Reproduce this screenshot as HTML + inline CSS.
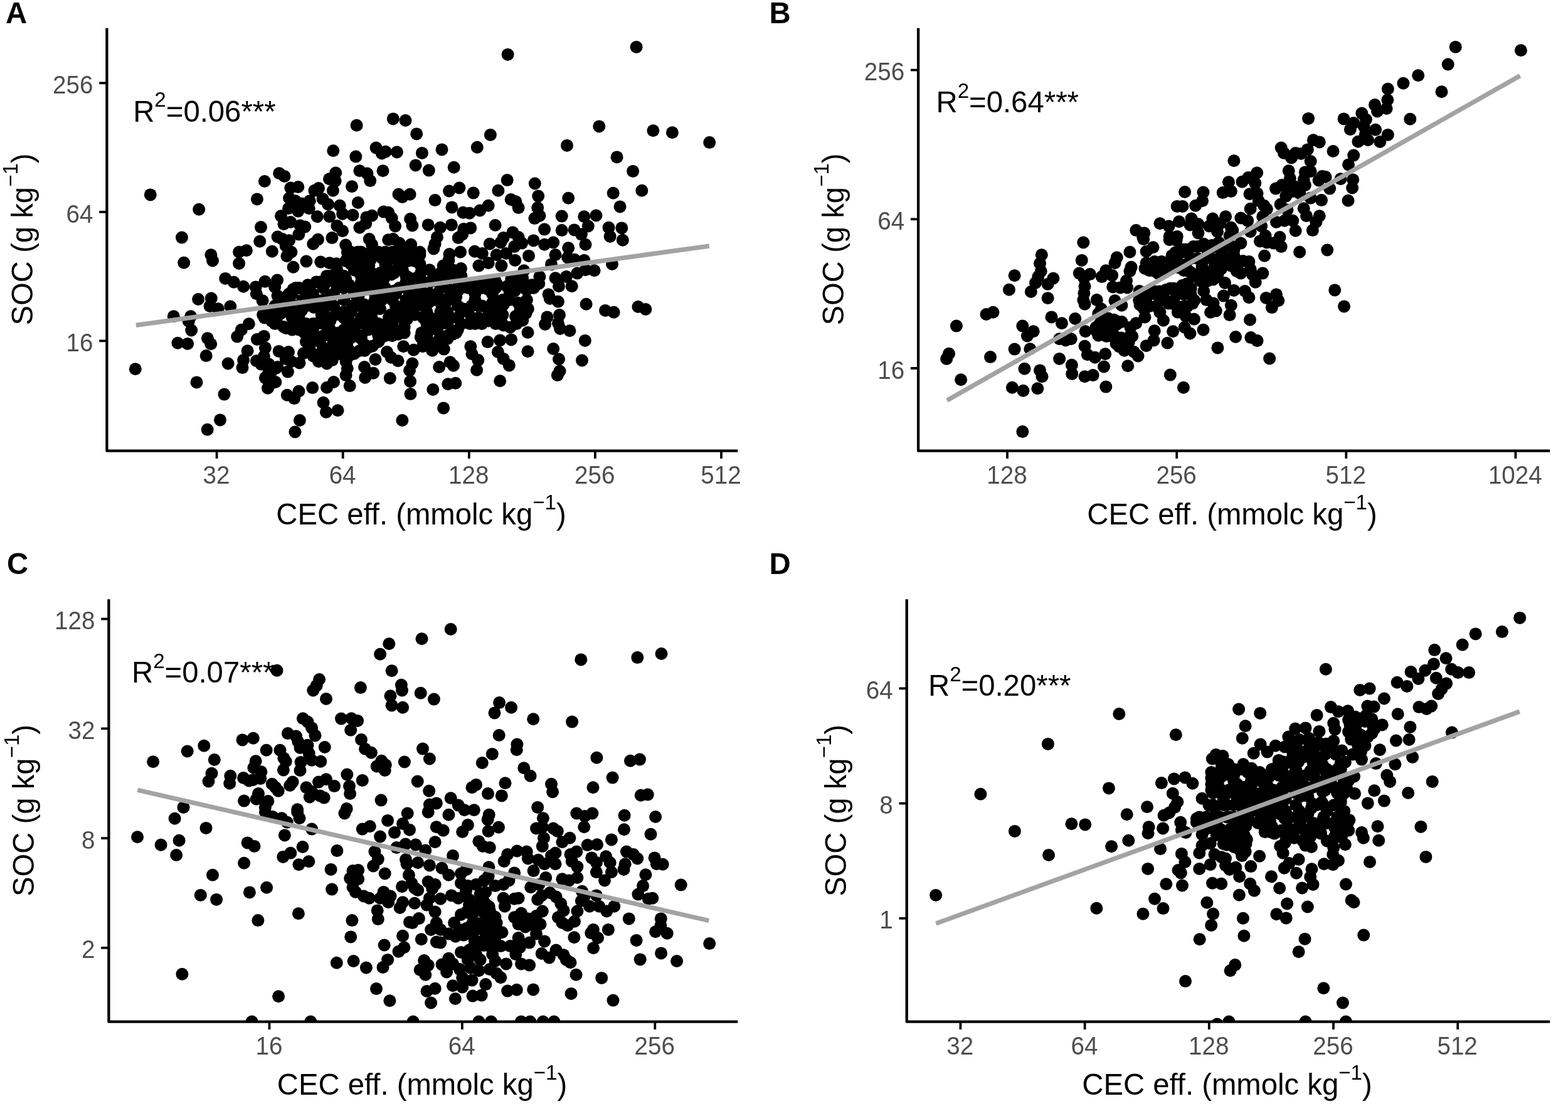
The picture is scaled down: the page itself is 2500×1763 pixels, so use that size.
<!DOCTYPE html>
<html lang="en">
<head>
<meta charset="utf-8">
<title>SOC vs CEC eff. scatter plots</title>
<style>
html,body{margin:0;padding:0;background:#fff;}
body{width:2500px;height:1763px;overflow:hidden;}
svg{display:block;font-family:"Liberation Sans", Arial, Helvetica, sans-serif;}
</style>
</head>
<body>
<svg width="2500" height="1763" viewBox="0 0 2500 1763">
<rect width="2500" height="1763" fill="#fff"/>
<g id="panel-A">
<clipPath id="clipA"><rect x="170.4" y="14.7" width="1045.8" height="704"/></clipPath>
<text transform="translate(212.2 193.8) scale(1 1.02)" font-size="47.3" fill="#000">R<tspan font-size="33.1" dy="-23">2</tspan><tspan dy="23">=0.06***</tspan></text>
<g class="pts" clip-path="url(#clipA)" fill="#000">
<circle cx="1014.6" cy="74.9" r="10"/><circle cx="809.6" cy="86.9" r="10"/><circle cx="626.8" cy="189.4" r="10"/><circle cx="646.5" cy="192" r="10"/><circle cx="568.6" cy="199.8" r="10"/><circle cx="955.3" cy="201.4" r="10"/>
<circle cx="1041.4" cy="208.3" r="10"/><circle cx="1071.9" cy="211.2" r="10"/><circle cx="664.2" cy="213.4" r="10"/><circle cx="781.9" cy="214.9" r="10"/><circle cx="1131.2" cy="227.1" r="10"/><circle cx="904" cy="231.9" r="10"/>
<circle cx="760.8" cy="234.7" r="10"/><circle cx="599.6" cy="235.6" r="10"/><circle cx="704.5" cy="238.4" r="10"/><circle cx="531.3" cy="240.2" r="10"/><circle cx="614.8" cy="241.7" r="10"/><circle cx="632.9" cy="242.4" r="10"/>
<circle cx="672.9" cy="243.9" r="10"/><circle cx="608.7" cy="244.5" r="10"/><circle cx="567.3" cy="249.6" r="10"/><circle cx="983.6" cy="250.4" r="10"/><circle cx="662.6" cy="263.5" r="10"/><circle cx="723.7" cy="266.8" r="10"/>
<circle cx="683.8" cy="271.6" r="10"/><circle cx="573.4" cy="272.2" r="10"/><circle cx="610.5" cy="272.2" r="10"/><circle cx="1009.1" cy="272.9" r="10"/><circle cx="535.2" cy="275.5" r="10"/><circle cx="445.2" cy="276.2" r="10"/>
<circle cx="585.4" cy="276.6" r="10"/><circle cx="453.5" cy="281" r="10"/><circle cx="525" cy="285.3" r="10"/><circle cx="808.7" cy="287.1" r="10"/><circle cx="590.2" cy="288.1" r="10"/><circle cx="534.6" cy="288.6" r="10"/>
<circle cx="421.9" cy="289" r="10"/><circle cx="852.8" cy="292.5" r="10"/><circle cx="561" cy="297.3" r="10"/><circle cx="475.3" cy="298" r="10"/><circle cx="463.3" cy="299.5" r="10"/><circle cx="732.4" cy="299.5" r="10"/>
<circle cx="508" cy="300.1" r="10"/><circle cx="501.4" cy="303.8" r="10"/><circle cx="530.9" cy="303.8" r="10"/><circle cx="794.4" cy="303.8" r="10"/><circle cx="1023.3" cy="303.8" r="10"/><circle cx="716.1" cy="304.5" r="10"/>
<circle cx="754.7" cy="307.6" r="10"/><circle cx="977.7" cy="307.8" r="10"/><circle cx="635.5" cy="309.7" r="10"/><circle cx="653.6" cy="309.7" r="10"/><circle cx="239.8" cy="310.4" r="10"/><circle cx="858.2" cy="312.6" r="10"/>
<circle cx="641.4" cy="314.1" r="10"/><circle cx="461.1" cy="315.8" r="10"/><circle cx="906.2" cy="315.8" r="10"/><circle cx="514.5" cy="316.9" r="10"/><circle cx="409.9" cy="317.4" r="10"/><circle cx="814.6" cy="318" r="10"/>
<circle cx="693.6" cy="319.1" r="10"/><circle cx="470.9" cy="320.2" r="10"/><circle cx="493.8" cy="320.2" r="10"/><circle cx="822.3" cy="321.3" r="10"/><circle cx="570.8" cy="323" r="10"/><circle cx="480.7" cy="324.6" r="10"/>
<circle cx="523.2" cy="325.7" r="10"/><circle cx="541.8" cy="327.8" r="10"/><circle cx="778.7" cy="327.8" r="10"/><circle cx="988.6" cy="329.4" r="10"/><circle cx="720.4" cy="330.4" r="10"/><circle cx="826.6" cy="331.1" r="10"/>
<circle cx="857.2" cy="331.1" r="10"/><circle cx="460" cy="332.2" r="10"/><circle cx="492.7" cy="332.2" r="10"/><circle cx="317.2" cy="333.7" r="10"/><circle cx="765.1" cy="335.5" r="10"/><circle cx="475.3" cy="336.6" r="10"/>
<circle cx="611.6" cy="337.6" r="10"/><circle cx="619.2" cy="338.7" r="10"/><circle cx="738.3" cy="338.7" r="10"/><circle cx="748.6" cy="339.8" r="10"/><circle cx="546.1" cy="340.9" r="10"/><circle cx="562.5" cy="342.7" r="10"/>
<circle cx="950.5" cy="343.5" r="10"/><circle cx="593" cy="343.8" r="10"/><circle cx="860.4" cy="343.8" r="10"/><circle cx="448" cy="344.2" r="10"/><circle cx="895.7" cy="344.6" r="10"/><circle cx="505.8" cy="345.3" r="10"/>
<circle cx="525.4" cy="345.3" r="10"/><circle cx="931.3" cy="345.3" r="10"/><circle cx="584.3" cy="346.4" r="10"/><circle cx="624.6" cy="347.5" r="10"/><circle cx="852.4" cy="348.1" r="10"/><circle cx="654.1" cy="349" r="10"/>
<circle cx="463.3" cy="354" r="10"/><circle cx="583.2" cy="356.2" r="10"/><circle cx="452.4" cy="357.3" r="10"/><circle cx="682.7" cy="358.4" r="10"/><circle cx="719.8" cy="358.4" r="10"/><circle cx="789.6" cy="359" r="10"/>
<circle cx="478.5" cy="359.5" r="10"/><circle cx="657.4" cy="359.5" r="10"/><circle cx="537.4" cy="359.9" r="10"/><circle cx="630.1" cy="360.5" r="10"/><circle cx="937.8" cy="360.5" r="10"/><circle cx="486.2" cy="361.6" r="10"/>
<circle cx="416" cy="362.1" r="10"/><circle cx="573.4" cy="362.7" r="10"/><circle cx="701.9" cy="362.7" r="10"/><circle cx="970.5" cy="362.7" r="10"/><circle cx="750.3" cy="363.4" r="10"/><circle cx="991.3" cy="363.4" r="10"/>
<circle cx="739.4" cy="364.9" r="10"/><circle cx="868.1" cy="365.6" r="10"/><circle cx="915.6" cy="366.4" r="10"/><circle cx="895.7" cy="367.1" r="10"/><circle cx="546.1" cy="368.2" r="10"/><circle cx="817.5" cy="370.4" r="10"/>
<circle cx="476.4" cy="373.6" r="10"/><circle cx="737.2" cy="373.6" r="10"/><circle cx="926.9" cy="373.6" r="10"/><circle cx="972.7" cy="376.9" r="10"/><circle cx="442.6" cy="377.5" r="10"/><circle cx="696.9" cy="378" r="10"/>
<circle cx="826.6" cy="378" r="10"/><circle cx="289.9" cy="378.6" r="10"/><circle cx="529.4" cy="379.1" r="10"/><circle cx="730.7" cy="379.1" r="10"/><circle cx="802.6" cy="379.1" r="10"/><circle cx="450.2" cy="381.1" r="10"/>
<circle cx="588.7" cy="381.1" r="10"/><circle cx="626.8" cy="381.1" r="10"/><circle cx="506.9" cy="381.7" r="10"/><circle cx="619.2" cy="382.2" r="10"/><circle cx="992.8" cy="382.8" r="10"/><circle cx="461.1" cy="383.3" r="10"/>
<circle cx="850.6" cy="383.4" r="10"/><circle cx="414.2" cy="384.8" r="10"/><circle cx="798.3" cy="386.5" r="10"/><circle cx="882.2" cy="386.5" r="10"/><circle cx="636.6" cy="387.6" r="10"/><circle cx="832.1" cy="387.6" r="10"/>
<circle cx="499.3" cy="388.7" r="10"/><circle cx="693.6" cy="388.7" r="10"/><circle cx="780.8" cy="388.7" r="10"/><circle cx="593" cy="389.8" r="10"/><circle cx="655.2" cy="389.8" r="10"/><circle cx="868.1" cy="389.8" r="10"/>
<circle cx="933.5" cy="389.8" r="10"/><circle cx="551.2" cy="390.5" r="10"/><circle cx="455.7" cy="392" r="10"/><circle cx="820.1" cy="393.1" r="10"/><circle cx="906.2" cy="395.3" r="10"/><circle cx="691.4" cy="396.4" r="10"/>
<circle cx="392.9" cy="399.2" r="10"/><circle cx="433.8" cy="400.7" r="10"/><circle cx="756.8" cy="400.7" r="10"/><circle cx="381.1" cy="401.8" r="10"/><circle cx="464.4" cy="401.8" r="10"/><circle cx="553.9" cy="401.8" r="10"/>
<circle cx="559.4" cy="401.8" r="10"/><circle cx="570.4" cy="401.8" r="10"/><circle cx="575.9" cy="401.8" r="10"/><circle cx="597.9" cy="401.8" r="10"/><circle cx="603.4" cy="401.8" r="10"/><circle cx="614.4" cy="401.8" r="10"/>
<circle cx="625.4" cy="401.8" r="10"/><circle cx="636.4" cy="401.8" r="10"/><circle cx="641.9" cy="401.8" r="10"/><circle cx="647.4" cy="401.8" r="10"/><circle cx="658.4" cy="401.8" r="10"/><circle cx="669.4" cy="401.8" r="10"/>
<circle cx="734" cy="401.8" r="10"/><circle cx="768.8" cy="404" r="10"/><circle cx="807" cy="404" r="10"/><circle cx="588.3" cy="404.2" r="10"/><circle cx="716.5" cy="405.1" r="10"/><circle cx="336.4" cy="406.2" r="10"/>
<circle cx="791.7" cy="406.2" r="10"/><circle cx="885.5" cy="406.2" r="10"/><circle cx="595.2" cy="406.6" r="10"/><circle cx="669.4" cy="406.6" r="10"/><circle cx="843" cy="407.9" r="10"/><circle cx="457.4" cy="408.3" r="10"/>
<circle cx="905.1" cy="410.5" r="10"/><circle cx="553.9" cy="411.3" r="10"/><circle cx="575.9" cy="411.3" r="10"/><circle cx="586.9" cy="411.3" r="10"/><circle cx="608.9" cy="411.3" r="10"/><circle cx="630.9" cy="411.3" r="10"/>
<circle cx="652.9" cy="411.3" r="10"/><circle cx="663.9" cy="411.3" r="10"/><circle cx="591" cy="413.7" r="10"/><circle cx="621.3" cy="413.7" r="10"/><circle cx="916" cy="413.8" r="10"/><circle cx="715.4" cy="414.9" r="10"/>
<circle cx="821.2" cy="414.9" r="10"/><circle cx="931.3" cy="414.9" r="10"/><circle cx="339" cy="415.5" r="10"/><circle cx="551.2" cy="416.1" r="10"/><circle cx="567.7" cy="416.1" r="10"/><circle cx="650.2" cy="416.1" r="10"/>
<circle cx="661.2" cy="416.1" r="10"/><circle cx="488.4" cy="416.6" r="10"/><circle cx="511.3" cy="417.5" r="10"/><circle cx="293.2" cy="418.8" r="10"/><circle cx="525.4" cy="419.2" r="10"/><circle cx="778.7" cy="419.2" r="10"/>
<circle cx="381.1" cy="419.9" r="10"/><circle cx="536.3" cy="420.3" r="10"/><circle cx="559.4" cy="420.9" r="10"/><circle cx="581.4" cy="420.9" r="10"/><circle cx="614.4" cy="420.9" r="10"/><circle cx="636.4" cy="420.9" r="10"/>
<circle cx="669.4" cy="420.9" r="10"/><circle cx="976" cy="421" r="10"/><circle cx="879" cy="421.4" r="10"/><circle cx="588.3" cy="423.2" r="10"/><circle cx="706.7" cy="423.6" r="10"/><circle cx="763.4" cy="423.6" r="10"/>
<circle cx="799.4" cy="423.6" r="10"/><circle cx="467.6" cy="425.8" r="10"/><circle cx="735" cy="428" r="10"/><circle cx="684.9" cy="430.2" r="10"/><circle cx="722" cy="430.2" r="10"/><circle cx="933.5" cy="430.2" r="10"/>
<circle cx="537.4" cy="430.4" r="10"/><circle cx="564.9" cy="430.4" r="10"/><circle cx="586.9" cy="430.4" r="10"/><circle cx="619.9" cy="430.4" r="10"/><circle cx="641.9" cy="430.4" r="10"/><circle cx="835.3" cy="431.2" r="10"/>
<circle cx="947.6" cy="431.2" r="10"/><circle cx="671.8" cy="432.3" r="10"/><circle cx="592.4" cy="435.1" r="10"/><circle cx="606.2" cy="435.1" r="10"/><circle cx="628.2" cy="435.1" r="10"/><circle cx="702.4" cy="435.1" r="10"/>
<circle cx="920.4" cy="435.6" r="10"/><circle cx="574.5" cy="437.5" r="10"/><circle cx="624" cy="437.5" r="10"/><circle cx="520.9" cy="439.9" r="10"/><circle cx="526.4" cy="439.9" r="10"/><circle cx="537.4" cy="439.9" r="10"/>
<circle cx="548.4" cy="439.9" r="10"/><circle cx="581.4" cy="439.9" r="10"/><circle cx="603.4" cy="439.9" r="10"/><circle cx="647.4" cy="439.9" r="10"/><circle cx="669.4" cy="439.9" r="10"/><circle cx="691.4" cy="439.9" r="10"/>
<circle cx="702.4" cy="439.9" r="10"/><circle cx="713.4" cy="439.9" r="10"/><circle cx="735.4" cy="439.9" r="10"/><circle cx="860.4" cy="441.1" r="10"/><circle cx="902.9" cy="441.1" r="10"/><circle cx="651.5" cy="442.3" r="10"/>
<circle cx="665.3" cy="442.3" r="10"/><circle cx="833" cy="442.3" r="10"/><circle cx="885.5" cy="443.2" r="10"/><circle cx="359.3" cy="443.9" r="10"/><circle cx="551.2" cy="444.7" r="10"/><circle cx="611.7" cy="444.7" r="10"/>
<circle cx="727.2" cy="444.7" r="10"/><circle cx="815.2" cy="444.7" r="10"/><circle cx="442.1" cy="446.5" r="10"/><circle cx="536" cy="447.1" r="10"/><circle cx="824.8" cy="447.1" r="10"/><circle cx="422.5" cy="448.7" r="10"/>
<circle cx="504.4" cy="449.4" r="10"/><circle cx="509.9" cy="449.4" r="10"/><circle cx="520.9" cy="449.4" r="10"/><circle cx="575.9" cy="449.4" r="10"/><circle cx="586.9" cy="449.4" r="10"/><circle cx="608.9" cy="449.4" r="10"/>
<circle cx="647.4" cy="449.4" r="10"/><circle cx="652.9" cy="449.4" r="10"/><circle cx="674.9" cy="449.4" r="10"/><circle cx="685.9" cy="449.4" r="10"/><circle cx="699.7" cy="449.4" r="10"/><circle cx="773.9" cy="449.4" r="10"/>
<circle cx="784.9" cy="449.4" r="10"/><circle cx="790.4" cy="449.4" r="10"/><circle cx="817.9" cy="449.4" r="10"/><circle cx="828.9" cy="449.4" r="10"/><circle cx="834.4" cy="449.4" r="10"/><circle cx="372.8" cy="449.8" r="10"/>
<circle cx="756" cy="451.8" r="10"/><circle cx="769.8" cy="451.8" r="10"/><circle cx="859.3" cy="452" r="10"/><circle cx="490.7" cy="454.2" r="10"/><circle cx="556.7" cy="454.2" r="10"/><circle cx="597.9" cy="454.2" r="10"/>
<circle cx="749.2" cy="454.2" r="10"/><circle cx="793.2" cy="454.2" r="10"/><circle cx="812.4" cy="454.2" r="10"/><circle cx="848.2" cy="454.2" r="10"/><circle cx="891" cy="456.3" r="10"/><circle cx="911.7" cy="456.3" r="10"/>
<circle cx="808.3" cy="456.6" r="10"/><circle cx="388.1" cy="456.8" r="10"/><circle cx="407.7" cy="457.4" r="10"/><circle cx="438.2" cy="457.4" r="10"/><circle cx="471.4" cy="459" r="10"/><circle cx="476.9" cy="459" r="10"/>
<circle cx="493.4" cy="459" r="10"/><circle cx="515.4" cy="459" r="10"/><circle cx="537.4" cy="459" r="10"/><circle cx="548.4" cy="459" r="10"/><circle cx="570.4" cy="459" r="10"/><circle cx="575.9" cy="459" r="10"/>
<circle cx="581.4" cy="459" r="10"/><circle cx="592.4" cy="459" r="10"/><circle cx="614.4" cy="459" r="10"/><circle cx="636.4" cy="459" r="10"/><circle cx="647.4" cy="459" r="10"/><circle cx="669.4" cy="459" r="10"/>
<circle cx="702.4" cy="459" r="10"/><circle cx="713.4" cy="459" r="10"/><circle cx="729.9" cy="459" r="10"/><circle cx="735.4" cy="459" r="10"/><circle cx="746.4" cy="459" r="10"/><circle cx="757.4" cy="459" r="10"/>
<circle cx="768.4" cy="459" r="10"/><circle cx="790.4" cy="459" r="10"/><circle cx="812.4" cy="459" r="10"/><circle cx="823.4" cy="459" r="10"/><circle cx="850.9" cy="459" r="10"/><circle cx="841.9" cy="460.7" r="10"/>
<circle cx="467.3" cy="461.3" r="10"/><circle cx="585.5" cy="461.3" r="10"/><circle cx="778" cy="461.3" r="10"/><circle cx="838.5" cy="461.3" r="10"/><circle cx="628.2" cy="463.7" r="10"/><circle cx="729.9" cy="463.7" r="10"/>
<circle cx="812.4" cy="463.7" r="10"/><circle cx="820.7" cy="463.7" r="10"/><circle cx="662.5" cy="466.1" r="10"/><circle cx="408.8" cy="468.3" r="10"/><circle cx="460.4" cy="468.5" r="10"/><circle cx="465.9" cy="468.5" r="10"/>
<circle cx="487.9" cy="468.5" r="10"/><circle cx="498.9" cy="468.5" r="10"/><circle cx="531.9" cy="468.5" r="10"/><circle cx="564.9" cy="468.5" r="10"/><circle cx="597.9" cy="468.5" r="10"/><circle cx="619.9" cy="468.5" r="10"/>
<circle cx="630.9" cy="468.5" r="10"/><circle cx="652.9" cy="468.5" r="10"/><circle cx="680.4" cy="468.5" r="10"/><circle cx="685.9" cy="468.5" r="10"/><circle cx="696.9" cy="468.5" r="10"/><circle cx="718.9" cy="468.5" r="10"/>
<circle cx="757.4" cy="468.5" r="10"/><circle cx="784.9" cy="468.5" r="10"/><circle cx="874.6" cy="469.4" r="10"/><circle cx="527.8" cy="470.9" r="10"/><circle cx="571.8" cy="470.9" r="10"/><circle cx="442.6" cy="471.6" r="10"/>
<circle cx="727.2" cy="473.3" r="10"/><circle cx="336.8" cy="475.5" r="10"/><circle cx="876.8" cy="475.9" r="10"/><circle cx="316.1" cy="477" r="10"/><circle cx="449.4" cy="478" r="10"/><circle cx="460.4" cy="478" r="10"/>
<circle cx="482.4" cy="478" r="10"/><circle cx="493.4" cy="478" r="10"/><circle cx="504.4" cy="478" r="10"/><circle cx="515.4" cy="478" r="10"/><circle cx="548.4" cy="478" r="10"/><circle cx="570.4" cy="478" r="10"/>
<circle cx="597.9" cy="478" r="10"/><circle cx="603.4" cy="478" r="10"/><circle cx="608.9" cy="478" r="10"/><circle cx="625.4" cy="478" r="10"/><circle cx="647.4" cy="478" r="10"/><circle cx="669.4" cy="478" r="10"/>
<circle cx="680.4" cy="478" r="10"/><circle cx="691.4" cy="478" r="10"/><circle cx="707.9" cy="478" r="10"/><circle cx="713.4" cy="478" r="10"/><circle cx="724.4" cy="478" r="10"/><circle cx="757.4" cy="478" r="10"/>
<circle cx="801.4" cy="478" r="10"/><circle cx="812.4" cy="478" r="10"/><circle cx="839.9" cy="478" r="10"/><circle cx="418.6" cy="479.2" r="10"/><circle cx="889.9" cy="480.7" r="10"/><circle cx="463.2" cy="482.8" r="10"/>
<circle cx="661.2" cy="482.8" r="10"/><circle cx="683.2" cy="482.8" r="10"/><circle cx="784.9" cy="482.8" r="10"/><circle cx="826.2" cy="482.8" r="10"/><circle cx="934.6" cy="484.7" r="10"/><circle cx="580" cy="485.2" r="10"/>
<circle cx="703.8" cy="485.2" r="10"/><circle cx="709.3" cy="485.2" r="10"/><circle cx="802.8" cy="485.2" r="10"/><circle cx="438.4" cy="487.5" r="10"/><circle cx="443.9" cy="487.5" r="10"/><circle cx="468.7" cy="487.5" r="10"/>
<circle cx="487.9" cy="487.5" r="10"/><circle cx="504.4" cy="487.5" r="10"/><circle cx="509.9" cy="487.5" r="10"/><circle cx="520.9" cy="487.5" r="10"/><circle cx="531.9" cy="487.5" r="10"/><circle cx="562.2" cy="487.5" r="10"/>
<circle cx="575.9" cy="487.5" r="10"/><circle cx="586.9" cy="487.5" r="10"/><circle cx="630.9" cy="487.5" r="10"/><circle cx="647.4" cy="487.5" r="10"/><circle cx="652.9" cy="487.5" r="10"/><circle cx="674.9" cy="487.5" r="10"/>
<circle cx="729.9" cy="487.5" r="10"/><circle cx="751.9" cy="487.5" r="10"/><circle cx="762.9" cy="487.5" r="10"/><circle cx="768.4" cy="487.5" r="10"/><circle cx="784.9" cy="487.5" r="10"/><circle cx="795.9" cy="487.5" r="10"/>
<circle cx="828.9" cy="487.5" r="10"/><circle cx="334.6" cy="487.9" r="10"/><circle cx="367.3" cy="488.6" r="10"/><circle cx="1017.4" cy="489" r="10"/><circle cx="500.3" cy="489.9" r="10"/><circle cx="347.7" cy="492.3" r="10"/>
<circle cx="562.2" cy="492.3" r="10"/><circle cx="595.2" cy="492.3" r="10"/><circle cx="600.7" cy="492.3" r="10"/><circle cx="606.2" cy="492.3" r="10"/><circle cx="738.2" cy="492.3" r="10"/><circle cx="798.7" cy="492.3" r="10"/>
<circle cx="841.9" cy="492.3" r="10"/><circle cx="1029.4" cy="493" r="10"/><circle cx="453.5" cy="494.7" r="10"/><circle cx="481" cy="494.7" r="10"/><circle cx="965.1" cy="494.9" r="10"/><circle cx="427.4" cy="497.1" r="10"/>
<circle cx="438.4" cy="497.1" r="10"/><circle cx="460.4" cy="497.1" r="10"/><circle cx="471.4" cy="497.1" r="10"/><circle cx="476.9" cy="497.1" r="10"/><circle cx="515.4" cy="497.1" r="10"/><circle cx="537.4" cy="497.1" r="10"/>
<circle cx="548.4" cy="497.1" r="10"/><circle cx="559.4" cy="497.1" r="10"/><circle cx="581.4" cy="497.1" r="10"/><circle cx="592.4" cy="497.1" r="10"/><circle cx="658.4" cy="497.1" r="10"/><circle cx="680.4" cy="497.1" r="10"/>
<circle cx="702.4" cy="497.1" r="10"/><circle cx="713.4" cy="497.1" r="10"/><circle cx="735.4" cy="497.1" r="10"/><circle cx="746.4" cy="497.1" r="10"/><circle cx="779.4" cy="497.1" r="10"/><circle cx="790.4" cy="497.1" r="10"/>
<circle cx="828.9" cy="497.1" r="10"/><circle cx="834.4" cy="497.1" r="10"/><circle cx="978.6" cy="497.7" r="10"/><circle cx="448" cy="499.4" r="10"/><circle cx="643.3" cy="499.4" r="10"/><circle cx="838.5" cy="499.4" r="10"/>
<circle cx="419.2" cy="501.8" r="10"/><circle cx="441.2" cy="501.8" r="10"/><circle cx="476.9" cy="501.8" r="10"/><circle cx="512.7" cy="501.8" r="10"/><circle cx="534.7" cy="501.8" r="10"/><circle cx="622.7" cy="501.8" r="10"/>
<circle cx="661.2" cy="501.8" r="10"/><circle cx="782.2" cy="501.8" r="10"/><circle cx="801.4" cy="501.8" r="10"/><circle cx="826.2" cy="501.8" r="10"/><circle cx="892" cy="502.1" r="10"/><circle cx="822" cy="504.2" r="10"/>
<circle cx="276.8" cy="504.3" r="10"/><circle cx="304.1" cy="504.3" r="10"/><circle cx="872.4" cy="505.4" r="10"/><circle cx="421.9" cy="506.6" r="10"/><circle cx="432.9" cy="506.6" r="10"/><circle cx="441.2" cy="506.6" r="10"/>
<circle cx="465.9" cy="506.6" r="10"/><circle cx="520.9" cy="506.6" r="10"/><circle cx="548.4" cy="506.6" r="10"/><circle cx="575.9" cy="506.6" r="10"/><circle cx="592.4" cy="506.6" r="10"/><circle cx="619.9" cy="506.6" r="10"/>
<circle cx="630.9" cy="506.6" r="10"/><circle cx="641.9" cy="506.6" r="10"/><circle cx="674.9" cy="506.6" r="10"/><circle cx="685.9" cy="506.6" r="10"/><circle cx="707.9" cy="506.6" r="10"/><circle cx="718.9" cy="506.6" r="10"/>
<circle cx="729.9" cy="506.6" r="10"/><circle cx="751.9" cy="506.6" r="10"/><circle cx="762.9" cy="506.6" r="10"/><circle cx="795.9" cy="506.6" r="10"/><circle cx="648.8" cy="509" r="10"/><circle cx="772.5" cy="509" r="10"/>
<circle cx="833.2" cy="510.8" r="10"/><circle cx="432.9" cy="511.4" r="10"/><circle cx="512.7" cy="511.4" r="10"/><circle cx="526.4" cy="511.4" r="10"/><circle cx="556.7" cy="511.4" r="10"/><circle cx="779.4" cy="511.4" r="10"/>
<circle cx="798.7" cy="511.4" r="10"/><circle cx="300.8" cy="511.9" r="10"/><circle cx="698.3" cy="513.7" r="10"/><circle cx="889.9" cy="515.2" r="10"/><circle cx="438.4" cy="516.1" r="10"/><circle cx="471.4" cy="516.1" r="10"/>
<circle cx="482.4" cy="516.1" r="10"/><circle cx="487.9" cy="516.1" r="10"/><circle cx="498.9" cy="516.1" r="10"/><circle cx="504.4" cy="516.1" r="10"/><circle cx="515.4" cy="516.1" r="10"/><circle cx="559.4" cy="516.1" r="10"/>
<circle cx="570.4" cy="516.1" r="10"/><circle cx="581.4" cy="516.1" r="10"/><circle cx="592.4" cy="516.1" r="10"/><circle cx="603.4" cy="516.1" r="10"/><circle cx="625.4" cy="516.1" r="10"/><circle cx="680.4" cy="516.1" r="10"/>
<circle cx="702.4" cy="516.1" r="10"/><circle cx="713.4" cy="516.1" r="10"/><circle cx="735.4" cy="516.1" r="10"/><circle cx="749.2" cy="516.1" r="10"/><circle cx="757.4" cy="516.1" r="10"/><circle cx="768.4" cy="516.1" r="10"/>
<circle cx="790.4" cy="516.1" r="10"/><circle cx="798.7" cy="516.1" r="10"/><circle cx="823.4" cy="516.1" r="10"/><circle cx="396.8" cy="516.3" r="10"/><circle cx="869.1" cy="516.9" r="10"/><circle cx="607.5" cy="518.5" r="10"/>
<circle cx="802.8" cy="518.5" r="10"/><circle cx="452.2" cy="520.9" r="10"/><circle cx="644.7" cy="520.9" r="10"/><circle cx="813.5" cy="521.7" r="10"/><circle cx="456.3" cy="523.3" r="10"/><circle cx="893.1" cy="523.9" r="10"/>
<circle cx="465.9" cy="525.6" r="10"/><circle cx="476.9" cy="525.6" r="10"/><circle cx="487.9" cy="525.6" r="10"/><circle cx="498.9" cy="525.6" r="10"/><circle cx="526.4" cy="525.6" r="10"/><circle cx="548.4" cy="525.6" r="10"/>
<circle cx="553.9" cy="525.6" r="10"/><circle cx="564.9" cy="525.6" r="10"/><circle cx="586.9" cy="525.6" r="10"/><circle cx="597.9" cy="525.6" r="10"/><circle cx="619.9" cy="525.6" r="10"/><circle cx="641.9" cy="525.6" r="10"/>
<circle cx="685.9" cy="525.6" r="10"/><circle cx="696.9" cy="525.6" r="10"/><circle cx="729.9" cy="525.6" r="10"/><circle cx="384.8" cy="525.7" r="10"/><circle cx="305.2" cy="526.5" r="10"/><circle cx="908.4" cy="527.2" r="10"/>
<circle cx="841.5" cy="530" r="10"/><circle cx="485.2" cy="530.4" r="10"/><circle cx="540.2" cy="530.4" r="10"/><circle cx="639.2" cy="530.4" r="10"/><circle cx="644.7" cy="530.4" r="10"/><circle cx="672.2" cy="530.4" r="10"/>
<circle cx="727.2" cy="530.4" r="10"/><circle cx="722" cy="532.6" r="10"/><circle cx="635" cy="532.8" r="10"/><circle cx="493.4" cy="535.2" r="10"/><circle cx="515.4" cy="535.2" r="10"/><circle cx="526.4" cy="535.2" r="10"/>
<circle cx="548.4" cy="535.2" r="10"/><circle cx="570.4" cy="535.2" r="10"/><circle cx="575.9" cy="535.2" r="10"/><circle cx="603.4" cy="535.2" r="10"/><circle cx="614.4" cy="535.2" r="10"/><circle cx="625.4" cy="535.2" r="10"/>
<circle cx="674.9" cy="535.2" r="10"/><circle cx="680.4" cy="535.2" r="10"/><circle cx="702.4" cy="535.2" r="10"/><circle cx="713.4" cy="535.2" r="10"/><circle cx="420.8" cy="535.9" r="10"/><circle cx="378.2" cy="536.6" r="10"/>
<circle cx="560.8" cy="537.6" r="10"/><circle cx="670.8" cy="537.6" r="10"/><circle cx="330.9" cy="539.2" r="10"/><circle cx="575.9" cy="539.9" r="10"/><circle cx="606.2" cy="539.9" r="10"/><circle cx="707.9" cy="539.9" r="10"/>
<circle cx="713.4" cy="539.9" r="10"/><circle cx="409.9" cy="540.9" r="10"/><circle cx="815.1" cy="541.4" r="10"/><circle cx="503" cy="542.3" r="10"/><circle cx="797.2" cy="542.5" r="10"/><circle cx="932.8" cy="542.9" r="10"/>
<circle cx="487.9" cy="544.7" r="10"/><circle cx="509.9" cy="544.7" r="10"/><circle cx="531.9" cy="544.7" r="10"/><circle cx="553.9" cy="544.7" r="10"/><circle cx="603.4" cy="544.7" r="10"/><circle cx="674.9" cy="544.7" r="10"/>
<circle cx="680.4" cy="544.7" r="10"/><circle cx="696.9" cy="544.7" r="10"/><circle cx="777.6" cy="545.1" r="10"/><circle cx="283.4" cy="546.8" r="10"/><circle cx="538.8" cy="547.1" r="10"/><circle cx="299.1" cy="547.9" r="10"/>
<circle cx="336.2" cy="548.3" r="10"/><circle cx="581.4" cy="549.5" r="10"/><circle cx="593.8" cy="551.8" r="10"/><circle cx="643.2" cy="552.3" r="10"/><circle cx="674" cy="552.3" r="10"/><circle cx="750.3" cy="552.3" r="10"/>
<circle cx="493.4" cy="554.2" r="10"/><circle cx="515.4" cy="554.2" r="10"/><circle cx="526.4" cy="554.2" r="10"/><circle cx="548.4" cy="554.2" r="10"/><circle cx="581.4" cy="554.2" r="10"/><circle cx="586.9" cy="554.2" r="10"/>
<circle cx="422.9" cy="554.4" r="10"/><circle cx="882.2" cy="556" r="10"/><circle cx="555.3" cy="556.6" r="10"/><circle cx="707.8" cy="556.6" r="10"/><circle cx="659.5" cy="557.7" r="10"/><circle cx="689.2" cy="558.8" r="10"/>
<circle cx="573.2" cy="559" r="10"/><circle cx="581.4" cy="559" r="10"/><circle cx="394.6" cy="559.2" r="10"/><circle cx="444.7" cy="559.9" r="10"/><circle cx="841.5" cy="560.3" r="10"/><circle cx="460" cy="561" r="10"/>
<circle cx="617" cy="561" r="10"/><circle cx="793.9" cy="561" r="10"/><circle cx="484" cy="563.2" r="10"/><circle cx="509.9" cy="563.7" r="10"/><circle cx="520.9" cy="563.7" r="10"/><circle cx="531.9" cy="563.7" r="10"/>
<circle cx="542.9" cy="563.7" r="10"/><circle cx="553.9" cy="563.7" r="10"/><circle cx="564.9" cy="563.7" r="10"/><circle cx="752.5" cy="564.3" r="10"/><circle cx="547" cy="566.1" r="10"/><circle cx="558" cy="566.1" r="10"/>
<circle cx="328.7" cy="567.1" r="10"/><circle cx="499.3" cy="567.5" r="10"/><circle cx="420.8" cy="568" r="10"/><circle cx="512.7" cy="568.5" r="10"/><circle cx="523.7" cy="568.5" r="10"/><circle cx="623.6" cy="569.7" r="10"/>
<circle cx="516.8" cy="570.9" r="10"/><circle cx="455.7" cy="571.9" r="10"/><circle cx="802.6" cy="571.9" r="10"/><circle cx="891" cy="572.5" r="10"/><circle cx="598.5" cy="573" r="10"/><circle cx="388.1" cy="574.1" r="10"/>
<circle cx="529.8" cy="574.1" r="10"/><circle cx="762.3" cy="574.1" r="10"/><circle cx="928" cy="574.5" r="10"/><circle cx="408.8" cy="575.2" r="10"/><circle cx="634.5" cy="575.2" r="10"/><circle cx="464.4" cy="576.2" r="10"/>
<circle cx="508" cy="576.2" r="10"/><circle cx="551.6" cy="576.2" r="10"/><circle cx="717.6" cy="577.3" r="10"/><circle cx="477.5" cy="578.4" r="10"/><circle cx="363.6" cy="579.5" r="10"/><circle cx="521.1" cy="579.5" r="10"/>
<circle cx="657.4" cy="579.5" r="10"/><circle cx="416.4" cy="580.6" r="10"/><circle cx="428.7" cy="580.6" r="10"/><circle cx="811.8" cy="582.4" r="10"/><circle cx="723" cy="582.8" r="10"/><circle cx="427.3" cy="585" r="10"/>
<circle cx="442.6" cy="585" r="10"/><circle cx="581" cy="585" r="10"/><circle cx="700.2" cy="585" r="10"/><circle cx="386.5" cy="586.1" r="10"/><circle cx="439.6" cy="587.2" r="10"/><circle cx="553.8" cy="587.2" r="10"/>
<circle cx="215.8" cy="588.2" r="10"/><circle cx="760.1" cy="589.8" r="10"/><circle cx="653" cy="590.4" r="10"/><circle cx="892.5" cy="591.5" r="10"/><circle cx="458.9" cy="592.6" r="10"/><circle cx="431.7" cy="593.7" r="10"/>
<circle cx="595.2" cy="594.8" r="10"/><circle cx="426.5" cy="598.1" r="10"/><circle cx="551.6" cy="598.1" r="10"/><circle cx="888.8" cy="598.1" r="10"/><circle cx="582.1" cy="602" r="10"/><circle cx="422.9" cy="602.4" r="10"/>
<circle cx="621.8" cy="602.9" r="10"/><circle cx="797.2" cy="607.2" r="10"/><circle cx="654.1" cy="607.9" r="10"/><circle cx="439.3" cy="609" r="10"/><circle cx="532" cy="609" r="10"/><circle cx="313.5" cy="609.4" r="10"/>
<circle cx="726.3" cy="610.7" r="10"/><circle cx="714.3" cy="612.2" r="10"/><circle cx="557.7" cy="615.1" r="10"/><circle cx="428.7" cy="615.5" r="10"/><circle cx="521.1" cy="617.7" r="10"/><circle cx="498.2" cy="618.1" r="10"/>
<circle cx="426.9" cy="618.8" r="10"/><circle cx="690.3" cy="621" r="10"/><circle cx="476.4" cy="623.8" r="10"/><circle cx="654.5" cy="628.1" r="10"/><circle cx="357.5" cy="628.6" r="10"/><circle cx="457.8" cy="629.7" r="10"/>
<circle cx="469.2" cy="635.1" r="10"/><circle cx="515.6" cy="641.7" r="10"/><circle cx="707.1" cy="650.4" r="10"/><circle cx="538.5" cy="654.3" r="10"/><circle cx="520" cy="656.9" r="10"/><circle cx="351" cy="669.4" r="10"/>
<circle cx="477.9" cy="670" r="10"/><circle cx="641.4" cy="670" r="10"/><circle cx="330.7" cy="684.8" r="10"/><circle cx="470.5" cy="688.5" r="10"/>
</g>
<line x1="216.8" y1="518.4" x2="1130.8" y2="392.2" stroke="#a3a3a3" stroke-width="7.3"/>
<path d="M170.4 44.7V718.7H1176.2" fill="none" stroke="#000" stroke-width="4.3" stroke-linejoin="round"/>
<path d="M345.6 718.7v12.2M546.7 718.7v12.2M747.8 718.7v12.2M948.9 718.7v12.2M1150 718.7v12.2M170.4 132.4h-12.2M170.4 337.9h-12.2M170.4 543.4h-12.2" fill="none" stroke="#000" stroke-width="3.8"/>
<g font-size="38.6" fill="#4d4d4d">
<text transform="translate(345 770.7) scale(1 1.04)" text-anchor="middle">32</text>
<text transform="translate(546.1 770.7) scale(1 1.04)" text-anchor="middle">64</text>
<text transform="translate(747.2 770.7) scale(1 1.04)" text-anchor="middle">128</text>
<text transform="translate(948.3 770.7) scale(1 1.04)" text-anchor="middle">256</text>
<text transform="translate(1149.4 770.7) scale(1 1.04)" text-anchor="middle">512</text>
<text transform="translate(148.4 149) scale(1 1.04)" text-anchor="end">256</text>
<text transform="translate(148.4 354.5) scale(1 1.04)" text-anchor="end">64</text>
<text transform="translate(148.4 560) scale(1 1.04)" text-anchor="end">16</text>
</g>
<text transform="translate(671.5 836.4) scale(1 1.02)" font-size="47.3" text-anchor="middle" fill="#000">CEC eff. (mmolc kg<tspan font-size="33.1" dy="-23.5">−1</tspan><tspan dy="23.5">)</tspan></text>
<text transform="translate(52 381.5) rotate(-90) scale(1 1.02)" font-size="47.3" text-anchor="middle" fill="#000">SOC (g kg<tspan font-size="33.1" dy="-23.5">−1</tspan><tspan dy="23.5">)</tspan></text>
<text x="9" y="37" font-size="47.3" font-weight="bold" fill="#000">A</text>
</g>
<g id="panel-B">
<clipPath id="clipB"><rect x="1464.1" y="14.7" width="1047.1" height="704"/></clipPath>
<text transform="translate(1492.5 179) scale(1 1.02)" font-size="47.3" fill="#000">R<tspan font-size="33.1" dy="-23">2</tspan><tspan dy="23">=0.64***</tspan></text>
<g class="pts" clip-path="url(#clipB)" fill="#000">
<circle cx="2320.7" cy="74.9" r="10"/><circle cx="2424.9" cy="80.3" r="10"/><circle cx="2308.7" cy="102.6" r="10"/><circle cx="2261.2" cy="120.2" r="10"/><circle cx="2237.4" cy="132.7" r="10"/><circle cx="2212.8" cy="141.8" r="10"/>
<circle cx="2298.5" cy="146.2" r="10"/><circle cx="2212.3" cy="159.3" r="10"/><circle cx="2192" cy="167.1" r="10"/><circle cx="2210.6" cy="173" r="10"/><circle cx="2196" cy="177.4" r="10"/><circle cx="2171.3" cy="180.6" r="10"/>
<circle cx="2086.1" cy="188.9" r="10"/><circle cx="2142.5" cy="189.4" r="10"/><circle cx="2248.3" cy="189.8" r="10"/><circle cx="2177.9" cy="190.5" r="10"/><circle cx="2158.2" cy="195.9" r="10"/><circle cx="2174.6" cy="201.4" r="10"/>
<circle cx="2152.8" cy="206.2" r="10"/><circle cx="2193.1" cy="206.8" r="10"/><circle cx="2176.8" cy="214.4" r="10"/><circle cx="2212.8" cy="214.9" r="10"/><circle cx="2093.9" cy="223.2" r="10"/><circle cx="2181.1" cy="223.2" r="10"/>
<circle cx="2165.4" cy="225.8" r="10"/><circle cx="2200.3" cy="226" r="10"/><circle cx="2103.7" cy="226.4" r="10"/><circle cx="2042.7" cy="235.6" r="10"/><circle cx="2084.8" cy="238.4" r="10"/><circle cx="2125.5" cy="241" r="10"/>
<circle cx="2047" cy="243.9" r="10"/><circle cx="2065.6" cy="243.9" r="10"/><circle cx="2074.3" cy="245" r="10"/><circle cx="2158.2" cy="247.6" r="10"/><circle cx="2059" cy="251.5" r="10"/><circle cx="1967.4" cy="256.3" r="10"/>
<circle cx="2089.6" cy="257" r="10"/><circle cx="2150" cy="262.4" r="10"/><circle cx="2054.7" cy="272.2" r="10"/><circle cx="2089.6" cy="273.3" r="10"/><circle cx="2080.8" cy="274.4" r="10"/><circle cx="2004.1" cy="275.5" r="10"/>
<circle cx="2108.1" cy="281" r="10"/><circle cx="2113.5" cy="282" r="10"/><circle cx="1990.3" cy="283.1" r="10"/><circle cx="2056.8" cy="284.2" r="10"/><circle cx="2137.5" cy="285.3" r="10"/><circle cx="2078.7" cy="286.4" r="10"/>
<circle cx="2157.2" cy="286.4" r="10"/><circle cx="2102.6" cy="287.5" r="10"/><circle cx="1980.5" cy="289.7" r="10"/><circle cx="1958.9" cy="290.3" r="10"/><circle cx="2001.2" cy="291.9" r="10"/><circle cx="2043.8" cy="295.1" r="10"/>
<circle cx="2080.8" cy="295.1" r="10"/><circle cx="2063.4" cy="297.3" r="10"/><circle cx="2074.3" cy="299.5" r="10"/><circle cx="2156.1" cy="299.5" r="10"/><circle cx="2034" cy="300.6" r="10"/><circle cx="2120.1" cy="300.6" r="10"/>
<circle cx="2052.5" cy="301.7" r="10"/><circle cx="1962.8" cy="304.9" r="10"/><circle cx="2061.2" cy="304.9" r="10"/><circle cx="1889.1" cy="306" r="10"/><circle cx="1918.5" cy="306.5" r="10"/><circle cx="1949.7" cy="307.1" r="10"/>
<circle cx="2004.5" cy="308.2" r="10"/><circle cx="2072.1" cy="308.2" r="10"/><circle cx="1992.5" cy="309.3" r="10"/><circle cx="2050.3" cy="312.6" r="10"/><circle cx="2089.6" cy="315.8" r="10"/><circle cx="2107" cy="319.1" r="10"/>
<circle cx="2149.5" cy="319.8" r="10"/><circle cx="1917" cy="320.2" r="10"/><circle cx="2006.7" cy="320.2" r="10"/><circle cx="2041.6" cy="325.7" r="10"/><circle cx="1906.1" cy="327.8" r="10"/><circle cx="2015.4" cy="327.8" r="10"/>
<circle cx="1876.7" cy="328.9" r="10"/><circle cx="1885.4" cy="328.9" r="10"/><circle cx="2078.7" cy="332.2" r="10"/><circle cx="1993.6" cy="332.8" r="10"/><circle cx="2019.8" cy="333.3" r="10"/><circle cx="2052.5" cy="334.4" r="10"/>
<circle cx="2083" cy="344.2" r="10"/><circle cx="2103.7" cy="344.2" r="10"/><circle cx="1954.1" cy="345.3" r="10"/><circle cx="2013.2" cy="345.3" r="10"/><circle cx="1978.3" cy="347.5" r="10"/><circle cx="1899.6" cy="348.5" r="10"/>
<circle cx="1933.4" cy="348.5" r="10"/><circle cx="1989.2" cy="351.8" r="10"/><circle cx="2048.1" cy="351.8" r="10"/><circle cx="2061.2" cy="351.8" r="10"/><circle cx="1879.9" cy="353.3" r="10"/><circle cx="2035" cy="354" r="10"/>
<circle cx="2098.3" cy="354" r="10"/><circle cx="1849.4" cy="356.2" r="10"/><circle cx="1945.4" cy="356.2" r="10"/><circle cx="1910.5" cy="357.3" r="10"/><circle cx="1897.4" cy="358.4" r="10"/><circle cx="1863.6" cy="360.5" r="10"/>
<circle cx="1927.9" cy="360.5" r="10"/><circle cx="2011.1" cy="360.5" r="10"/><circle cx="1962.8" cy="362.7" r="10"/><circle cx="1811.3" cy="367.1" r="10"/><circle cx="1965.3" cy="367.1" r="10"/><circle cx="2092.8" cy="367.1" r="10"/>
<circle cx="2065.6" cy="367.7" r="10"/><circle cx="1941" cy="369.3" r="10"/><circle cx="1993.6" cy="369.3" r="10"/><circle cx="1824.3" cy="371.4" r="10"/><circle cx="1910.5" cy="371.4" r="10"/><circle cx="1960.6" cy="375.8" r="10"/>
<circle cx="2017.6" cy="375.8" r="10"/><circle cx="1864.7" cy="376.9" r="10"/><circle cx="1876.7" cy="376.9" r="10"/><circle cx="1822.2" cy="378" r="10"/><circle cx="2040.5" cy="378" r="10"/><circle cx="1823.2" cy="381.1" r="10"/>
<circle cx="1864.7" cy="382.2" r="10"/><circle cx="1875.6" cy="383.3" r="10"/><circle cx="2008.9" cy="384.4" r="10"/><circle cx="1727.3" cy="386.5" r="10"/><circle cx="1943.2" cy="386.5" r="10"/><circle cx="2019.8" cy="386.5" r="10"/>
<circle cx="1978.3" cy="387.6" r="10"/><circle cx="2030.7" cy="387.6" r="10"/><circle cx="1919.2" cy="388.7" r="10"/><circle cx="1932.3" cy="390.9" r="10"/><circle cx="1902.8" cy="393.1" r="10"/><circle cx="1909.7" cy="393.1" r="10"/>
<circle cx="1920.7" cy="393.1" r="10"/><circle cx="1937.2" cy="393.1" r="10"/><circle cx="1945.5" cy="393.1" r="10"/><circle cx="1953.7" cy="393.1" r="10"/><circle cx="1960.6" cy="393.1" r="10"/><circle cx="1964.7" cy="393.1" r="10"/>
<circle cx="2042.7" cy="393.1" r="10"/><circle cx="1838.5" cy="394.2" r="10"/><circle cx="1890.8" cy="397.4" r="10"/><circle cx="1885" cy="397.8" r="10"/><circle cx="1967.5" cy="397.8" r="10"/><circle cx="2116.2" cy="398.5" r="10"/>
<circle cx="1827.6" cy="400.7" r="10"/><circle cx="1801.4" cy="401.8" r="10"/><circle cx="2072.1" cy="401.8" r="10"/><circle cx="1874" cy="402.6" r="10"/><circle cx="1882.2" cy="402.6" r="10"/><circle cx="1893.2" cy="402.6" r="10"/>
<circle cx="1926.2" cy="402.6" r="10"/><circle cx="1948.2" cy="402.6" r="10"/><circle cx="1660.8" cy="406.2" r="10"/><circle cx="1868.5" cy="407.4" r="10"/><circle cx="1967.5" cy="407.4" r="10"/><circle cx="2016.1" cy="407.7" r="10"/>
<circle cx="1873.4" cy="408.3" r="10"/><circle cx="1780.7" cy="410.5" r="10"/><circle cx="1898.7" cy="412.1" r="10"/><circle cx="1909.7" cy="412.1" r="10"/><circle cx="1920.7" cy="412.1" r="10"/><circle cx="1931.7" cy="412.1" r="10"/>
<circle cx="1942.7" cy="412.1" r="10"/><circle cx="1964.7" cy="412.1" r="10"/><circle cx="1956.3" cy="412.7" r="10"/><circle cx="1724.7" cy="414.9" r="10"/><circle cx="1981.6" cy="416" r="10"/><circle cx="1841" cy="416.9" r="10"/>
<circle cx="1852" cy="416.9" r="10"/><circle cx="1864.7" cy="417.1" r="10"/><circle cx="1991.4" cy="417.1" r="10"/><circle cx="1777.5" cy="419.2" r="10"/><circle cx="1827.6" cy="419.2" r="10"/><circle cx="1968.9" cy="419.3" r="10"/>
<circle cx="1658" cy="419.7" r="10"/><circle cx="1847.2" cy="421.4" r="10"/><circle cx="1860.2" cy="421.7" r="10"/><circle cx="1882.2" cy="421.7" r="10"/><circle cx="1890.5" cy="421.7" r="10"/><circle cx="1937.2" cy="421.7" r="10"/>
<circle cx="1959.2" cy="421.7" r="10"/><circle cx="1962.8" cy="423.6" r="10"/><circle cx="1916.6" cy="424" r="10"/><circle cx="1803.6" cy="425.8" r="10"/><circle cx="1863" cy="426.4" r="10"/><circle cx="1879.5" cy="426.4" r="10"/>
<circle cx="1825.4" cy="428" r="10"/><circle cx="1946.9" cy="428.8" r="10"/><circle cx="1993.6" cy="429.1" r="10"/><circle cx="1763.3" cy="431.2" r="10"/><circle cx="1832.7" cy="431.2" r="10"/><circle cx="1854.7" cy="431.2" r="10"/>
<circle cx="1887.7" cy="431.2" r="10"/><circle cx="1893.2" cy="431.2" r="10"/><circle cx="1915.2" cy="431.2" r="10"/><circle cx="1920.7" cy="431.2" r="10"/><circle cx="1942.7" cy="431.2" r="10"/><circle cx="1659.7" cy="432.3" r="10"/>
<circle cx="1801.4" cy="432.3" r="10"/><circle cx="1840.7" cy="432.3" r="10"/><circle cx="1971.8" cy="432.3" r="10"/><circle cx="1897.4" cy="433.6" r="10"/><circle cx="1927.9" cy="434.5" r="10"/><circle cx="1720.8" cy="435.6" r="10"/>
<circle cx="1978.3" cy="435.6" r="10"/><circle cx="2013.2" cy="435.6" r="10"/><circle cx="1846.5" cy="436" r="10"/><circle cx="1737.8" cy="437.1" r="10"/><circle cx="1996.9" cy="437.8" r="10"/><circle cx="1941.4" cy="438.3" r="10"/>
<circle cx="1773.1" cy="438.9" r="10"/><circle cx="1617.6" cy="439.3" r="10"/><circle cx="1904.2" cy="440.7" r="10"/><circle cx="1915.2" cy="440.7" r="10"/><circle cx="1937.2" cy="440.7" r="10"/><circle cx="1655.3" cy="441.1" r="10"/>
<circle cx="1756.7" cy="441.1" r="10"/><circle cx="1728.4" cy="443.2" r="10"/><circle cx="1679.3" cy="443.7" r="10"/><circle cx="1934.5" cy="445.4" r="10"/><circle cx="1918" cy="445.5" r="10"/><circle cx="1929" cy="445.5" r="10"/>
<circle cx="1796" cy="447.6" r="10"/><circle cx="1913.9" cy="447.9" r="10"/><circle cx="1924.9" cy="447.9" r="10"/><circle cx="2001.7" cy="449.8" r="10"/><circle cx="1651" cy="450.9" r="10"/><circle cx="1953" cy="450.9" r="10"/>
<circle cx="1891.9" cy="452.6" r="10"/><circle cx="1670.6" cy="453" r="10"/><circle cx="1885" cy="455" r="10"/><circle cx="1729.5" cy="456.3" r="10"/><circle cx="1774.2" cy="457.4" r="10"/><circle cx="1786.2" cy="458.5" r="10"/>
<circle cx="1797.1" cy="458.5" r="10"/><circle cx="1865.7" cy="459.8" r="10"/><circle cx="1871.2" cy="459.8" r="10"/><circle cx="1882.2" cy="459.8" r="10"/><circle cx="1893.2" cy="459.8" r="10"/><circle cx="1898.7" cy="459.8" r="10"/>
<circle cx="1608.9" cy="461.8" r="10"/><circle cx="1858.9" cy="462.1" r="10"/><circle cx="2128.2" cy="462.4" r="10"/><circle cx="1967.2" cy="462.9" r="10"/><circle cx="1816.7" cy="464" r="10"/><circle cx="1919.2" cy="464" r="10"/>
<circle cx="1984.9" cy="464" r="10"/><circle cx="1835.5" cy="464.5" r="10"/><circle cx="1841" cy="464.5" r="10"/><circle cx="1849.2" cy="464.5" r="10"/><circle cx="1643.8" cy="465" r="10"/><circle cx="1825.9" cy="466.9" r="10"/>
<circle cx="1728.4" cy="467.2" r="10"/><circle cx="1821.7" cy="469.3" r="10"/><circle cx="1832.7" cy="469.3" r="10"/><circle cx="1843.7" cy="469.3" r="10"/><circle cx="1854.7" cy="469.3" r="10"/><circle cx="1876.7" cy="469.3" r="10"/>
<circle cx="1887.7" cy="469.3" r="10"/><circle cx="1898.7" cy="469.3" r="10"/><circle cx="2035" cy="469.4" r="10"/><circle cx="1950.8" cy="471.6" r="10"/><circle cx="1991.4" cy="474.2" r="10"/><circle cx="2018.7" cy="474.9" r="10"/>
<circle cx="1670.6" cy="475.3" r="10"/><circle cx="1727.3" cy="478.1" r="10"/><circle cx="1748.7" cy="478.1" r="10"/><circle cx="1923.6" cy="478.1" r="10"/><circle cx="1816.2" cy="478.8" r="10"/><circle cx="1827.2" cy="478.8" r="10"/>
<circle cx="1849.2" cy="478.8" r="10"/><circle cx="1871.2" cy="478.8" r="10"/><circle cx="1904.2" cy="478.8" r="10"/><circle cx="1777.5" cy="479.2" r="10"/><circle cx="2038.3" cy="479.2" r="10"/><circle cx="1863" cy="483.6" r="10"/>
<circle cx="1868.5" cy="483.6" r="10"/><circle cx="1901.5" cy="483.6" r="10"/><circle cx="1934.5" cy="483.6" r="10"/><circle cx="1729.5" cy="484.7" r="10"/><circle cx="1817.6" cy="486" r="10"/><circle cx="1788.4" cy="486.8" r="10"/>
<circle cx="1962.8" cy="486.8" r="10"/><circle cx="1832.7" cy="488.3" r="10"/><circle cx="1843.7" cy="488.3" r="10"/><circle cx="1876.7" cy="488.3" r="10"/><circle cx="1887.7" cy="488.3" r="10"/><circle cx="1893.2" cy="488.3" r="10"/>
<circle cx="2143" cy="488.4" r="10"/><circle cx="2027.8" cy="490.1" r="10"/><circle cx="1823.2" cy="491.2" r="10"/><circle cx="1755.7" cy="492.3" r="10"/><circle cx="1938.8" cy="495.6" r="10"/><circle cx="1583.4" cy="497.7" r="10"/>
<circle cx="1849.4" cy="497.7" r="10"/><circle cx="1877.8" cy="497.7" r="10"/><circle cx="1930.1" cy="497.7" r="10"/><circle cx="1751.3" cy="499.9" r="10"/><circle cx="1572.5" cy="501" r="10"/><circle cx="1960.6" cy="502.1" r="10"/>
<circle cx="1890.8" cy="504.3" r="10"/><circle cx="1676.5" cy="505.4" r="10"/><circle cx="1825.4" cy="505.4" r="10"/><circle cx="1766.7" cy="507.4" r="10"/><circle cx="1714.2" cy="508" r="10"/><circle cx="1903.9" cy="508.7" r="10"/>
<circle cx="1993" cy="509.7" r="10"/><circle cx="1776.4" cy="509.8" r="10"/><circle cx="1854.9" cy="510.8" r="10"/><circle cx="1780.5" cy="512.2" r="10"/><circle cx="1788.4" cy="513" r="10"/><circle cx="1692.9" cy="515.2" r="10"/>
<circle cx="1811.3" cy="515.2" r="10"/><circle cx="1753" cy="516.9" r="10"/><circle cx="1761.2" cy="516.9" r="10"/><circle cx="1772.2" cy="516.9" r="10"/><circle cx="1780.5" cy="516.9" r="10"/><circle cx="1524.9" cy="519.6" r="10"/>
<circle cx="1630.3" cy="519.6" r="10"/><circle cx="1751.3" cy="520.6" r="10"/><circle cx="1747.5" cy="521.7" r="10"/><circle cx="1775" cy="521.7" r="10"/><circle cx="1802.5" cy="521.7" r="10"/><circle cx="1888.7" cy="521.7" r="10"/>
<circle cx="1918.5" cy="525.7" r="10"/><circle cx="1766.7" cy="526.4" r="10"/><circle cx="1840.7" cy="527.2" r="10"/><circle cx="1647.7" cy="528.3" r="10"/><circle cx="1730.6" cy="528.3" r="10"/><circle cx="1870.1" cy="528.3" r="10"/>
<circle cx="1748.9" cy="528.8" r="10"/><circle cx="1897.4" cy="531.5" r="10"/><circle cx="1759.9" cy="533.6" r="10"/><circle cx="1751.3" cy="534.8" r="10"/><circle cx="1637.9" cy="535.5" r="10"/><circle cx="1801.4" cy="535.9" r="10"/>
<circle cx="1764" cy="536" r="10"/><circle cx="1772.2" cy="536" r="10"/><circle cx="1777.7" cy="536" r="10"/><circle cx="1805.2" cy="536" r="10"/><circle cx="1970.1" cy="537" r="10"/><circle cx="1994.3" cy="538.1" r="10"/>
<circle cx="1787.4" cy="538.4" r="10"/><circle cx="1689.1" cy="540.3" r="10"/><circle cx="1707.7" cy="540.3" r="10"/><circle cx="1699" cy="542.5" r="10"/><circle cx="1839.6" cy="542.5" r="10"/><circle cx="2004.5" cy="543.1" r="10"/>
<circle cx="1788.7" cy="545.5" r="10"/><circle cx="1799.7" cy="545.5" r="10"/><circle cx="1861.4" cy="546.8" r="10"/><circle cx="1779.6" cy="547.9" r="10"/><circle cx="1791.5" cy="550.3" r="10"/><circle cx="1827.6" cy="551.2" r="10"/>
<circle cx="1729.5" cy="551.8" r="10"/><circle cx="1784.6" cy="552.6" r="10"/><circle cx="1795.6" cy="552.6" r="10"/><circle cx="1941.4" cy="554.4" r="10"/><circle cx="1642.3" cy="556.2" r="10"/><circle cx="1617.6" cy="556.6" r="10"/>
<circle cx="1792.7" cy="558.8" r="10"/><circle cx="1808" cy="561" r="10"/><circle cx="1513" cy="563.8" r="10"/><circle cx="1762.2" cy="564.3" r="10"/><circle cx="1733.8" cy="565.3" r="10"/><circle cx="1814.5" cy="567.5" r="10"/>
<circle cx="1579" cy="569.1" r="10"/><circle cx="1745.8" cy="569.7" r="10"/><circle cx="2024.1" cy="571.5" r="10"/><circle cx="1509.2" cy="571.9" r="10"/><circle cx="1689.1" cy="571.9" r="10"/><circle cx="1708.8" cy="581.7" r="10"/>
<circle cx="1798.2" cy="583.2" r="10"/><circle cx="1760" cy="584.5" r="10"/><circle cx="1633.5" cy="587.8" r="10"/><circle cx="1658" cy="590.4" r="10"/><circle cx="1709.2" cy="595.9" r="10"/><circle cx="1865.8" cy="597.6" r="10"/>
<circle cx="1742.6" cy="598.1" r="10"/><circle cx="1661.5" cy="600.2" r="10"/><circle cx="1729.5" cy="600.2" r="10"/><circle cx="1532.1" cy="605.3" r="10"/><circle cx="1763.3" cy="616.6" r="10"/><circle cx="1613.9" cy="617.7" r="10"/>
<circle cx="1886.9" cy="617.7" r="10"/><circle cx="1654.3" cy="619.2" r="10"/><circle cx="1631.4" cy="622.7" r="10"/><circle cx="1630.3" cy="688.1" r="10"/>
</g>
<line x1="1510" y1="638.2" x2="2423.5" y2="120.8" stroke="#a3a3a3" stroke-width="7.3"/>
<path d="M1464.1 44.7V718.7H2471.2" fill="none" stroke="#000" stroke-width="4.3" stroke-linejoin="round"/>
<path d="M1606 718.7v12.2M1876.2 718.7v12.2M2146.3 718.7v12.2M2416.4 718.7v12.2M1464.1 111.6h-12.2M1464.1 349.3h-12.2M1464.1 587h-12.2" fill="none" stroke="#000" stroke-width="3.8"/>
<g font-size="38.6" fill="#4d4d4d">
<text transform="translate(1605.4 770.7) scale(1 1.04)" text-anchor="middle">128</text>
<text transform="translate(1875.6 770.7) scale(1 1.04)" text-anchor="middle">256</text>
<text transform="translate(2145.7 770.7) scale(1 1.04)" text-anchor="middle">512</text>
<text transform="translate(2415.8 770.7) scale(1 1.04)" text-anchor="middle">1024</text>
<text transform="translate(1442.1 128.2) scale(1 1.04)" text-anchor="end">256</text>
<text transform="translate(1442.1 365.9) scale(1 1.04)" text-anchor="end">64</text>
<text transform="translate(1442.1 603.6) scale(1 1.04)" text-anchor="end">16</text>
</g>
<text transform="translate(1964.5 836.4) scale(1 1.02)" font-size="47.3" text-anchor="middle" fill="#000">CEC eff. (mmolc kg<tspan font-size="33.1" dy="-23.5">−1</tspan><tspan dy="23.5">)</tspan></text>
<text transform="translate(1345 381.5) rotate(-90) scale(1 1.02)" font-size="47.3" text-anchor="middle" fill="#000">SOC (g kg<tspan font-size="33.1" dy="-23.5">−1</tspan><tspan dy="23.5">)</tspan></text>
<text x="1226.6" y="37" font-size="47.3" font-weight="bold" fill="#000">B</text>
</g>
<g id="panel-C">
<clipPath id="clipC"><rect x="173.4" y="925.2" width="1042.8" height="703.5"/></clipPath>
<text transform="translate(210 1088.4) scale(1 1.02)" font-size="47.3" fill="#000">R<tspan font-size="33.1" dy="-23">2</tspan><tspan dy="23">=0.07***</tspan></text>
<g class="pts" clip-path="url(#clipC)" fill="#000">
<circle cx="718.7" cy="1003" r="10"/><circle cx="672.5" cy="1018.3" r="10"/><circle cx="620.3" cy="1026.3" r="10"/><circle cx="1054.5" cy="1042" r="10"/><circle cx="606.1" cy="1042.7" r="10"/><circle cx="1016.3" cy="1048.1" r="10"/>
<circle cx="926.3" cy="1051.4" r="10"/><circle cx="441.5" cy="1068.8" r="10"/><circle cx="624.6" cy="1069.3" r="10"/><circle cx="509.1" cy="1083" r="10"/><circle cx="639.9" cy="1091.7" r="10"/><circle cx="504.7" cy="1092.8" r="10"/>
<circle cx="574.9" cy="1096.1" r="10"/><circle cx="499.3" cy="1100.5" r="10"/><circle cx="641" cy="1100.5" r="10"/><circle cx="670.7" cy="1104.8" r="10"/><circle cx="622.5" cy="1109.2" r="10"/><circle cx="520" cy="1114" r="10"/>
<circle cx="691.9" cy="1114.6" r="10"/><circle cx="796.1" cy="1120.1" r="10"/><circle cx="624.6" cy="1124.4" r="10"/><circle cx="642.1" cy="1127.7" r="10"/><circle cx="815.1" cy="1127.7" r="10"/><circle cx="788.5" cy="1136.4" r="10"/>
<circle cx="482.9" cy="1145.2" r="10"/><circle cx="560.3" cy="1145.2" r="10"/><circle cx="544" cy="1145.6" r="10"/><circle cx="850.2" cy="1146.2" r="10"/><circle cx="570.1" cy="1148.9" r="10"/><circle cx="490.5" cy="1150.6" r="10"/>
<circle cx="912.1" cy="1150.6" r="10"/><circle cx="497.1" cy="1160.4" r="10"/><circle cx="559.2" cy="1163.7" r="10"/><circle cx="458.9" cy="1169.1" r="10"/><circle cx="795.7" cy="1172" r="10"/><circle cx="502.5" cy="1172.4" r="10"/>
<circle cx="472" cy="1173.5" r="10"/><circle cx="403.8" cy="1176.8" r="10"/><circle cx="576" cy="1179" r="10"/><circle cx="386.5" cy="1179.4" r="10"/><circle cx="475.3" cy="1182.2" r="10"/><circle cx="824.4" cy="1186.6" r="10"/>
<circle cx="490.5" cy="1187.7" r="10"/><circle cx="325.3" cy="1188.8" r="10"/><circle cx="517.8" cy="1191" r="10"/><circle cx="478.5" cy="1192" r="10"/><circle cx="674" cy="1193.6" r="10"/><circle cx="582.1" cy="1193.8" r="10"/>
<circle cx="823.8" cy="1195.3" r="10"/><circle cx="424.7" cy="1195.7" r="10"/><circle cx="446.5" cy="1195.7" r="10"/><circle cx="298.7" cy="1197.5" r="10"/><circle cx="591.9" cy="1199.7" r="10"/><circle cx="492.7" cy="1200.8" r="10"/>
<circle cx="784.8" cy="1201.9" r="10"/><circle cx="951.4" cy="1207.7" r="10"/><circle cx="452.4" cy="1208.4" r="10"/><circle cx="684.9" cy="1209.5" r="10"/><circle cx="1020" cy="1210.6" r="10"/><circle cx="341.8" cy="1211" r="10"/>
<circle cx="497.1" cy="1211.7" r="10"/><circle cx="608.3" cy="1212.8" r="10"/><circle cx="1005" cy="1212.8" r="10"/><circle cx="407.7" cy="1213.2" r="10"/><circle cx="455.7" cy="1213.8" r="10"/><circle cx="511.3" cy="1213.8" r="10"/>
<circle cx="244.1" cy="1214.3" r="10"/><circle cx="644.9" cy="1214.5" r="10"/><circle cx="479.6" cy="1214.9" r="10"/><circle cx="768.8" cy="1216" r="10"/><circle cx="614.8" cy="1219.3" r="10"/><circle cx="600.7" cy="1221.5" r="10"/>
<circle cx="404.4" cy="1223.7" r="10"/><circle cx="835.3" cy="1224.3" r="10"/><circle cx="451.9" cy="1227.4" r="10"/><circle cx="478.5" cy="1228" r="10"/><circle cx="613.7" cy="1228" r="10"/><circle cx="416.4" cy="1230.2" r="10"/>
<circle cx="337.5" cy="1232.8" r="10"/><circle cx="553.3" cy="1234.6" r="10"/><circle cx="367.3" cy="1236.7" r="10"/><circle cx="845.6" cy="1236.7" r="10"/><circle cx="976.6" cy="1239.6" r="10"/><circle cx="388.1" cy="1240" r="10"/>
<circle cx="415.3" cy="1241.1" r="10"/><circle cx="520" cy="1242.2" r="10"/><circle cx="403.3" cy="1243.3" r="10"/><circle cx="577.8" cy="1243.9" r="10"/><circle cx="396.8" cy="1244.4" r="10"/><circle cx="332.5" cy="1245.5" r="10"/>
<circle cx="665.7" cy="1245.5" r="10"/><circle cx="466.6" cy="1246.6" r="10"/><circle cx="508" cy="1246.6" r="10"/><circle cx="805.5" cy="1248.3" r="10"/><circle cx="366.2" cy="1248.7" r="10"/><circle cx="433.8" cy="1249.8" r="10"/>
<circle cx="879" cy="1249.8" r="10"/><circle cx="759" cy="1250.9" r="10"/><circle cx="462.2" cy="1252" r="10"/><circle cx="533.1" cy="1253.1" r="10"/><circle cx="557" cy="1253.1" r="10"/><circle cx="439.3" cy="1255.3" r="10"/>
<circle cx="488.4" cy="1255.3" r="10"/><circle cx="752.5" cy="1255.3" r="10"/><circle cx="945.5" cy="1255.3" r="10"/><circle cx="443.7" cy="1260.7" r="10"/><circle cx="684.2" cy="1260.7" r="10"/><circle cx="497.1" cy="1261.8" r="10"/>
<circle cx="881.1" cy="1262.3" r="10"/><circle cx="412" cy="1265.1" r="10"/><circle cx="558.1" cy="1265.1" r="10"/><circle cx="778" cy="1265.1" r="10"/><circle cx="1032.7" cy="1266.6" r="10"/><circle cx="1021.8" cy="1267.7" r="10"/>
<circle cx="510.2" cy="1268.4" r="10"/><circle cx="799.8" cy="1268.4" r="10"/><circle cx="493.8" cy="1270.5" r="10"/><circle cx="516.7" cy="1271.6" r="10"/><circle cx="718.7" cy="1272.3" r="10"/><circle cx="408.8" cy="1273.8" r="10"/>
<circle cx="607.6" cy="1275.6" r="10"/><circle cx="389.1" cy="1276.6" r="10"/><circle cx="427.3" cy="1277.1" r="10"/><circle cx="695.8" cy="1280.4" r="10"/><circle cx="684.9" cy="1282.5" r="10"/><circle cx="730.7" cy="1283.6" r="10"/>
<circle cx="292.5" cy="1286.9" r="10"/><circle cx="422.9" cy="1286.9" r="10"/><circle cx="857.2" cy="1286.9" r="10"/><circle cx="552.7" cy="1289.1" r="10"/><circle cx="474.2" cy="1290.2" r="10"/><circle cx="740.5" cy="1291.3" r="10"/>
<circle cx="755.8" cy="1291.3" r="10"/><circle cx="422.9" cy="1294.4" r="10"/><circle cx="474.2" cy="1294.4" r="10"/><circle cx="682.7" cy="1294.4" r="10"/><circle cx="549.4" cy="1296.5" r="10"/><circle cx="649.7" cy="1296.5" r="10"/>
<circle cx="919.3" cy="1296.5" r="10"/><circle cx="944.4" cy="1296.5" r="10"/><circle cx="715.4" cy="1298.7" r="10"/><circle cx="779.7" cy="1298.7" r="10"/><circle cx="995.6" cy="1299.8" r="10"/><circle cx="932.4" cy="1300.9" r="10"/>
<circle cx="434.9" cy="1302" r="10"/><circle cx="1045.1" cy="1302" r="10"/><circle cx="449.1" cy="1304.2" r="10"/><circle cx="477.5" cy="1304.2" r="10"/><circle cx="865.9" cy="1304.2" r="10"/><circle cx="278.6" cy="1304.8" r="10"/>
<circle cx="777.6" cy="1306.4" r="10"/><circle cx="618.1" cy="1307.9" r="10"/><circle cx="457.8" cy="1310.7" r="10"/><circle cx="642.1" cy="1312.9" r="10"/><circle cx="745.9" cy="1315.1" r="10"/><circle cx="589.8" cy="1317.3" r="10"/>
<circle cx="695.8" cy="1318.3" r="10"/><circle cx="864.8" cy="1318.3" r="10"/><circle cx="931.3" cy="1318.3" r="10"/><circle cx="795" cy="1318.8" r="10"/><circle cx="328.5" cy="1319.9" r="10"/><circle cx="855" cy="1320.5" r="10"/>
<circle cx="882.2" cy="1320.5" r="10"/><circle cx="497.1" cy="1321.6" r="10"/><circle cx="577.8" cy="1321.6" r="10"/><circle cx="995" cy="1322.3" r="10"/><circle cx="653" cy="1322.7" r="10"/><circle cx="706.7" cy="1323.8" r="10"/>
<circle cx="778.7" cy="1324.9" r="10"/><circle cx="888.8" cy="1324.9" r="10"/><circle cx="737.2" cy="1326" r="10"/><circle cx="629" cy="1327.1" r="10"/><circle cx="1037.5" cy="1329.7" r="10"/><circle cx="453.9" cy="1331.4" r="10"/>
<circle cx="606.1" cy="1333.6" r="10"/><circle cx="219.1" cy="1334.3" r="10"/><circle cx="867" cy="1335.8" r="10"/><circle cx="908.4" cy="1335.8" r="10"/><circle cx="974.9" cy="1338.4" r="10"/><circle cx="285.6" cy="1339.7" r="10"/>
<circle cx="763.4" cy="1341.2" r="10"/><circle cx="693.6" cy="1342.3" r="10"/><circle cx="896.4" cy="1342.3" r="10"/><circle cx="394.6" cy="1343.4" r="10"/><circle cx="646.5" cy="1345.6" r="10"/><circle cx="952" cy="1346.3" r="10"/>
<circle cx="662.7" cy="1346.6" r="10"/><circle cx="256.6" cy="1346.7" r="10"/><circle cx="936.7" cy="1347.1" r="10"/><circle cx="405.5" cy="1348.9" r="10"/><circle cx="769.9" cy="1348.9" r="10"/><circle cx="864.8" cy="1348.9" r="10"/>
<circle cx="482.5" cy="1350" r="10"/><circle cx="632.3" cy="1351.1" r="10"/><circle cx="780.8" cy="1351.1" r="10"/><circle cx="678.3" cy="1355.4" r="10"/><circle cx="537.4" cy="1356.1" r="10"/><circle cx="824.4" cy="1356.5" r="10"/>
<circle cx="597.4" cy="1357.6" r="10"/><circle cx="839.7" cy="1357.6" r="10"/><circle cx="919.3" cy="1357.6" r="10"/><circle cx="998.9" cy="1357.6" r="10"/><circle cx="463.3" cy="1359.8" r="10"/><circle cx="885.5" cy="1359.8" r="10"/>
<circle cx="809.2" cy="1362" r="10"/><circle cx="909.5" cy="1362" r="10"/><circle cx="1009.8" cy="1362" r="10"/><circle cx="281.2" cy="1363" r="10"/><circle cx="722" cy="1364.1" r="10"/><circle cx="879" cy="1364.1" r="10"/>
<circle cx="966.2" cy="1365.2" r="10"/><circle cx="451.3" cy="1365.9" r="10"/><circle cx="943.3" cy="1367.4" r="10"/><circle cx="1043.6" cy="1367.4" r="10"/><circle cx="841.9" cy="1368.5" r="10"/><circle cx="1016.3" cy="1368.5" r="10"/>
<circle cx="602.8" cy="1369.6" r="10"/><circle cx="647" cy="1370.1" r="10"/><circle cx="858.2" cy="1370.7" r="10"/><circle cx="803.7" cy="1372.9" r="10"/><circle cx="911.7" cy="1372.9" r="10"/><circle cx="492.3" cy="1373.3" r="10"/>
<circle cx="950.9" cy="1375" r="10"/><circle cx="972.7" cy="1375" r="10"/><circle cx="666.2" cy="1375.3" r="10"/><circle cx="389.1" cy="1375.7" r="10"/><circle cx="648.6" cy="1377.2" r="10"/><circle cx="868.1" cy="1377.2" r="10"/>
<circle cx="885.5" cy="1377.2" r="10"/><circle cx="996.7" cy="1377.2" r="10"/><circle cx="1046.9" cy="1377.2" r="10"/><circle cx="1056.7" cy="1377.7" r="10"/><circle cx="476.4" cy="1378.3" r="10"/><circle cx="684.9" cy="1379.4" r="10"/>
<circle cx="595.2" cy="1380.5" r="10"/><circle cx="920.4" cy="1381.6" r="10"/><circle cx="779.4" cy="1382.3" r="10"/><circle cx="704.5" cy="1383.8" r="10"/><circle cx="527.6" cy="1385.9" r="10"/><circle cx="743.8" cy="1385.9" r="10"/>
<circle cx="994.5" cy="1385.9" r="10"/><circle cx="571.2" cy="1387" r="10"/><circle cx="562.5" cy="1388.1" r="10"/><circle cx="850.6" cy="1388.1" r="10"/><circle cx="950.9" cy="1390.3" r="10"/><circle cx="974.9" cy="1390.3" r="10"/>
<circle cx="820.1" cy="1391.4" r="10"/><circle cx="613.7" cy="1392.5" r="10"/><circle cx="735" cy="1392.5" r="10"/><circle cx="1029.4" cy="1394.2" r="10"/><circle cx="339" cy="1394.7" r="10"/><circle cx="651.9" cy="1394.7" r="10"/>
<circle cx="715.4" cy="1394.7" r="10"/><circle cx="778.7" cy="1396.8" r="10"/><circle cx="870.2" cy="1399" r="10"/><circle cx="920.4" cy="1399" r="10"/><circle cx="558.1" cy="1400.1" r="10"/><circle cx="571.2" cy="1401.2" r="10"/>
<circle cx="896.4" cy="1401.2" r="10"/><circle cx="772.1" cy="1403.4" r="10"/><circle cx="811.4" cy="1403.4" r="10"/><circle cx="907.3" cy="1403.4" r="10"/><circle cx="964" cy="1403.4" r="10"/><circle cx="682.7" cy="1405.6" r="10"/>
<circle cx="656.3" cy="1407.7" r="10"/><circle cx="735" cy="1407.7" r="10"/><circle cx="693.6" cy="1409.9" r="10"/><circle cx="759" cy="1409.9" r="10"/><circle cx="802.6" cy="1409.9" r="10"/><circle cx="859.3" cy="1409.9" r="10"/>
<circle cx="1085.7" cy="1410.6" r="10"/><circle cx="745.9" cy="1412.1" r="10"/><circle cx="789.6" cy="1412.1" r="10"/><circle cx="1025.1" cy="1412.1" r="10"/><circle cx="641" cy="1413.2" r="10"/><circle cx="562.5" cy="1414.3" r="10"/>
<circle cx="846.2" cy="1414.3" r="10"/><circle cx="425.1" cy="1414.7" r="10"/><circle cx="661" cy="1415.4" r="10"/><circle cx="689.2" cy="1416.5" r="10"/><circle cx="529.1" cy="1417.6" r="10"/><circle cx="666.2" cy="1418.9" r="10"/>
<circle cx="742.9" cy="1420.6" r="10"/><circle cx="928" cy="1420.8" r="10"/><circle cx="566.9" cy="1421.9" r="10"/><circle cx="611.6" cy="1421.9" r="10"/><circle cx="774.2" cy="1422.3" r="10"/><circle cx="397.9" cy="1422.4" r="10"/>
<circle cx="876.8" cy="1423" r="10"/><circle cx="765.6" cy="1425.2" r="10"/><circle cx="1017.4" cy="1425.6" r="10"/><circle cx="319.8" cy="1426.9" r="10"/><circle cx="719.8" cy="1427.4" r="10"/><circle cx="863.7" cy="1427.4" r="10"/>
<circle cx="950.9" cy="1427.4" r="10"/><circle cx="579.9" cy="1428.5" r="10"/><circle cx="622.5" cy="1428.5" r="10"/><circle cx="767.2" cy="1429.3" r="10"/><circle cx="886.6" cy="1429.6" r="10"/><circle cx="931.3" cy="1429.6" r="10"/>
<circle cx="588.7" cy="1431.7" r="10"/><circle cx="606.1" cy="1431.7" r="10"/><circle cx="684.9" cy="1431.7" r="10"/><circle cx="730.7" cy="1431.7" r="10"/><circle cx="802.6" cy="1431.7" r="10"/><circle cx="826.6" cy="1431.7" r="10"/>
<circle cx="1040.3" cy="1431.7" r="10"/><circle cx="702.3" cy="1432.8" r="10"/><circle cx="820.1" cy="1432.8" r="10"/><circle cx="1033.8" cy="1432.8" r="10"/><circle cx="345.1" cy="1433.9" r="10"/><circle cx="748.1" cy="1433.9" r="10"/>
<circle cx="857.2" cy="1433.9" r="10"/><circle cx="926.9" cy="1436.1" r="10"/><circle cx="619.2" cy="1438.3" r="10"/><circle cx="642.1" cy="1438.3" r="10"/><circle cx="772.1" cy="1438.3" r="10"/><circle cx="661" cy="1439.8" r="10"/>
<circle cx="894.2" cy="1440.5" r="10"/><circle cx="680.5" cy="1442.6" r="10"/><circle cx="748.1" cy="1442.6" r="10"/><circle cx="759.1" cy="1442.6" r="10"/><circle cx="770.1" cy="1442.6" r="10"/><circle cx="775.6" cy="1442.6" r="10"/>
<circle cx="804.8" cy="1444.8" r="10"/><circle cx="940" cy="1444.8" r="10"/><circle cx="955.3" cy="1444.8" r="10"/><circle cx="979.3" cy="1444.8" r="10"/><circle cx="779.7" cy="1445" r="10"/><circle cx="637.7" cy="1447" r="10"/>
<circle cx="601.7" cy="1451.4" r="10"/><circle cx="759" cy="1451.4" r="10"/><circle cx="898.6" cy="1451.4" r="10"/><circle cx="753.6" cy="1452.2" r="10"/><circle cx="781.1" cy="1452.2" r="10"/><circle cx="864.8" cy="1452.5" r="10"/>
<circle cx="920.4" cy="1452.5" r="10"/><circle cx="967.3" cy="1452.5" r="10"/><circle cx="693.6" cy="1453.5" r="10"/><circle cx="743.8" cy="1453.5" r="10"/><circle cx="772.1" cy="1455.7" r="10"/><circle cx="831" cy="1455.7" r="10"/>
<circle cx="475.9" cy="1456.2" r="10"/><circle cx="750.9" cy="1456.9" r="10"/><circle cx="735" cy="1457.9" r="10"/><circle cx="780.8" cy="1460.1" r="10"/><circle cx="855" cy="1460.1" r="10"/><circle cx="789.4" cy="1461.7" r="10"/>
<circle cx="820.1" cy="1462.3" r="10"/><circle cx="889.9" cy="1462.3" r="10"/><circle cx="667.9" cy="1464.1" r="10"/><circle cx="841.9" cy="1464.4" r="10"/><circle cx="1002.8" cy="1464.4" r="10"/><circle cx="1053.8" cy="1464.4" r="10"/>
<circle cx="602.8" cy="1465.1" r="10"/><circle cx="411.4" cy="1467.1" r="10"/><circle cx="561.4" cy="1467.1" r="10"/><circle cx="916" cy="1468.8" r="10"/><circle cx="653" cy="1469.9" r="10"/><circle cx="695.8" cy="1471" r="10"/>
<circle cx="724.1" cy="1471" r="10"/><circle cx="759" cy="1471" r="10"/><circle cx="772.1" cy="1471" r="10"/><circle cx="791.7" cy="1471" r="10"/><circle cx="896.4" cy="1471" r="10"/><circle cx="657.5" cy="1471.1" r="10"/>
<circle cx="753.6" cy="1471.2" r="10"/><circle cx="826.6" cy="1473.2" r="10"/><circle cx="861.5" cy="1473.2" r="10"/><circle cx="785.2" cy="1475.3" r="10"/><circle cx="850.6" cy="1475.3" r="10"/><circle cx="905.1" cy="1475.3" r="10"/>
<circle cx="1053.4" cy="1475.3" r="10"/><circle cx="750.9" cy="1476" r="10"/><circle cx="837.5" cy="1477.5" r="10"/><circle cx="790.7" cy="1478.4" r="10"/><circle cx="743.8" cy="1479.7" r="10"/><circle cx="759.1" cy="1480.7" r="10"/>
<circle cx="687.1" cy="1481.9" r="10"/><circle cx="702.3" cy="1481.9" r="10"/><circle cx="732.9" cy="1481.9" r="10"/><circle cx="945.9" cy="1481.9" r="10"/><circle cx="969.9" cy="1481.9" r="10"/><circle cx="788" cy="1483.1" r="10"/>
<circle cx="1045.1" cy="1485.2" r="10"/><circle cx="772.9" cy="1485.5" r="10"/><circle cx="800.5" cy="1486.2" r="10"/><circle cx="942.2" cy="1487.3" r="10"/><circle cx="1063.7" cy="1487.8" r="10"/><circle cx="715.4" cy="1488.4" r="10"/>
<circle cx="855" cy="1488.4" r="10"/><circle cx="753.6" cy="1490.3" r="10"/><circle cx="786.6" cy="1490.3" r="10"/><circle cx="739.4" cy="1490.6" r="10"/><circle cx="642.1" cy="1491.7" r="10"/><circle cx="726.3" cy="1492.8" r="10"/>
<circle cx="776.5" cy="1492.8" r="10"/><circle cx="559.2" cy="1493.4" r="10"/><circle cx="915.4" cy="1494.3" r="10"/><circle cx="789.4" cy="1495" r="10"/><circle cx="826.6" cy="1495" r="10"/><circle cx="953.1" cy="1495" r="10"/>
<circle cx="671.8" cy="1497.2" r="10"/><circle cx="785.2" cy="1497.2" r="10"/><circle cx="1014.6" cy="1498.9" r="10"/><circle cx="756.8" cy="1499.3" r="10"/><circle cx="770.1" cy="1499.8" r="10"/><circle cx="868.1" cy="1500.4" r="10"/>
<circle cx="695.8" cy="1501.5" r="10"/><circle cx="702.3" cy="1502.6" r="10"/><circle cx="844.1" cy="1502.6" r="10"/><circle cx="1131.2" cy="1504.1" r="10"/><circle cx="767.4" cy="1504.6" r="10"/><circle cx="612.7" cy="1506.5" r="10"/>
<circle cx="771.5" cy="1506.9" r="10"/><circle cx="780.8" cy="1508.1" r="10"/><circle cx="798.3" cy="1508.1" r="10"/><circle cx="813.5" cy="1508.1" r="10"/><circle cx="644.3" cy="1510.2" r="10"/><circle cx="754.7" cy="1510.2" r="10"/>
<circle cx="828.8" cy="1510.2" r="10"/><circle cx="946.1" cy="1511.3" r="10"/><circle cx="748.1" cy="1514.6" r="10"/><circle cx="886.6" cy="1514.6" r="10"/><circle cx="635.5" cy="1516.8" r="10"/><circle cx="735" cy="1517.9" r="10"/>
<circle cx="1054.1" cy="1519.4" r="10"/><circle cx="863.7" cy="1520" r="10"/><circle cx="759" cy="1521.1" r="10"/><circle cx="785.2" cy="1521.1" r="10"/><circle cx="822.3" cy="1521.1" r="10"/><circle cx="898.6" cy="1522.2" r="10"/>
<circle cx="875.7" cy="1526.6" r="10"/><circle cx="715.4" cy="1527.7" r="10"/><circle cx="1020.7" cy="1529.4" r="10"/><circle cx="618.1" cy="1529.9" r="10"/><circle cx="745.9" cy="1529.9" r="10"/><circle cx="765.6" cy="1529.9" r="10"/>
<circle cx="902.9" cy="1529.9" r="10"/><circle cx="676.2" cy="1531" r="10"/><circle cx="563.6" cy="1532" r="10"/><circle cx="789.6" cy="1532" r="10"/><circle cx="1079.1" cy="1532" r="10"/><circle cx="909.5" cy="1534.2" r="10"/>
<circle cx="536.8" cy="1534.7" r="10"/><circle cx="722" cy="1536.4" r="10"/><circle cx="807" cy="1536.4" r="10"/><circle cx="831" cy="1536.4" r="10"/><circle cx="704.5" cy="1537.5" r="10"/><circle cx="682.7" cy="1538.6" r="10"/>
<circle cx="844.1" cy="1538.6" r="10"/><circle cx="610.5" cy="1541.9" r="10"/><circle cx="583.9" cy="1542.5" r="10"/><circle cx="750.3" cy="1542.9" r="10"/><circle cx="732.9" cy="1545.1" r="10"/><circle cx="780.8" cy="1545.1" r="10"/>
<circle cx="669.7" cy="1546" r="10"/><circle cx="763.4" cy="1547.3" r="10"/><circle cx="712.1" cy="1549.5" r="10"/><circle cx="791.7" cy="1551.7" r="10"/><circle cx="290.4" cy="1552.8" r="10"/><circle cx="678.3" cy="1553.8" r="10"/>
<circle cx="918.6" cy="1553.8" r="10"/><circle cx="737.2" cy="1558.2" r="10"/><circle cx="798.3" cy="1558.2" r="10"/><circle cx="959.2" cy="1558.9" r="10"/><circle cx="752.5" cy="1562.6" r="10"/><circle cx="774.3" cy="1569.1" r="10"/>
<circle cx="722" cy="1571.3" r="10"/><circle cx="737.2" cy="1573.5" r="10"/><circle cx="693.6" cy="1575.7" r="10"/><circle cx="600" cy="1576.1" r="10"/><circle cx="850.2" cy="1577.4" r="10"/><circle cx="823.8" cy="1577.8" r="10"/>
<circle cx="809.2" cy="1579.6" r="10"/><circle cx="680.5" cy="1580" r="10"/><circle cx="910.6" cy="1583.9" r="10"/><circle cx="767.7" cy="1586.6" r="10"/><circle cx="753.6" cy="1587.6" r="10"/><circle cx="444.1" cy="1588.3" r="10"/>
<circle cx="725.9" cy="1592" r="10"/><circle cx="977.5" cy="1594.6" r="10"/><circle cx="621.4" cy="1595.3" r="10"/><circle cx="687.1" cy="1598.5" r="10"/><circle cx="401.6" cy="1628.6" r="10"/><circle cx="495.3" cy="1628.6" r="10"/>
<circle cx="658.7" cy="1628.6" r="10"/><circle cx="763.4" cy="1628.6" r="10"/><circle cx="783" cy="1628.6" r="10"/><circle cx="831" cy="1628.6" r="10"/><circle cx="845.2" cy="1628.6" r="10"/><circle cx="865.9" cy="1628.6" r="10"/>
<circle cx="883.3" cy="1628.6" r="10"/>
</g>
<line x1="219.3" y1="1259.3" x2="1130.2" y2="1467.5" stroke="#a3a3a3" stroke-width="7.3"/>
<path d="M173.4 955.2V1628.7H1176.2" fill="none" stroke="#000" stroke-width="4.3" stroke-linejoin="round"/>
<path d="M429.5 1628.7v12.2M736.9 1628.7v12.2M1044.3 1628.7v12.2M173.4 986.7h-12.2M173.4 1161.4h-12.2M173.4 1336.1h-12.2M173.4 1510.8h-12.2" fill="none" stroke="#000" stroke-width="3.8"/>
<g font-size="38.6" fill="#4d4d4d">
<text transform="translate(428.9 1680.7) scale(1 1.04)" text-anchor="middle">16</text>
<text transform="translate(736.3 1680.7) scale(1 1.04)" text-anchor="middle">64</text>
<text transform="translate(1043.7 1680.7) scale(1 1.04)" text-anchor="middle">256</text>
<text transform="translate(151.4 1003.3) scale(1 1.04)" text-anchor="end">128</text>
<text transform="translate(151.4 1178) scale(1 1.04)" text-anchor="end">32</text>
<text transform="translate(151.4 1352.7) scale(1 1.04)" text-anchor="end">8</text>
<text transform="translate(151.4 1527.4) scale(1 1.04)" text-anchor="end">2</text>
</g>
<text transform="translate(673 1744.7) scale(1 1.02)" font-size="47.3" text-anchor="middle" fill="#000">CEC eff. (mmolc kg<tspan font-size="33.1" dy="-23.5">−1</tspan><tspan dy="23.5">)</tspan></text>
<text transform="translate(54 1292) rotate(-90) scale(1 1.02)" font-size="47.3" text-anchor="middle" fill="#000">SOC (g kg<tspan font-size="33.1" dy="-23.5">−1</tspan><tspan dy="23.5">)</tspan></text>
<text x="11" y="915" font-size="47.3" font-weight="bold" fill="#000">C</text>
</g>
<g id="panel-D">
<clipPath id="clipD"><rect x="1445.7" y="925.2" width="1065.5" height="703.5"/></clipPath>
<text transform="translate(1480 1109.1) scale(1 1.02)" font-size="47.3" fill="#000">R<tspan font-size="33.1" dy="-23">2</tspan><tspan dy="23">=0.20***</tspan></text>
<g class="pts" clip-path="url(#clipD)" fill="#000">
<circle cx="2423.2" cy="984.9" r="10"/><circle cx="2394.9" cy="1007.1" r="10"/><circle cx="2352.6" cy="1010.4" r="10"/><circle cx="2331.7" cy="1027.8" r="10"/><circle cx="2287.2" cy="1036.1" r="10"/><circle cx="2305.5" cy="1049.2" r="10"/>
<circle cx="2285.9" cy="1058.4" r="10"/><circle cx="2113.8" cy="1066.7" r="10"/><circle cx="2314.2" cy="1066.7" r="10"/><circle cx="2272.3" cy="1068.8" r="10"/><circle cx="2249.5" cy="1071" r="10"/><circle cx="2324.7" cy="1072.1" r="10"/>
<circle cx="2342.1" cy="1072.1" r="10"/><circle cx="2289.8" cy="1080.8" r="10"/><circle cx="2261.4" cy="1081.9" r="10"/><circle cx="2227.6" cy="1087.8" r="10"/><circle cx="2306.1" cy="1089.6" r="10"/><circle cx="2243.3" cy="1093.9" r="10"/>
<circle cx="2183.6" cy="1097.6" r="10"/><circle cx="2298.5" cy="1098.3" r="10"/><circle cx="2168.3" cy="1100" r="10"/><circle cx="2293.1" cy="1105.9" r="10"/><circle cx="2206.9" cy="1113.5" r="10"/><circle cx="2180.3" cy="1125.5" r="10"/>
<circle cx="2282.2" cy="1125.5" r="10"/><circle cx="2190.6" cy="1126.6" r="10"/><circle cx="2121.9" cy="1127.1" r="10"/><circle cx="2262.5" cy="1127.1" r="10"/><circle cx="2274.5" cy="1129.9" r="10"/><circle cx="1975.1" cy="1130.5" r="10"/>
<circle cx="2149.1" cy="1133.2" r="10"/><circle cx="2133.9" cy="1134.3" r="10"/><circle cx="2009.2" cy="1136.9" r="10"/><circle cx="1784.3" cy="1138" r="10"/><circle cx="2228.7" cy="1138.2" r="10"/><circle cx="2178.6" cy="1139.7" r="10"/>
<circle cx="2099.6" cy="1140.1" r="10"/><circle cx="2161" cy="1142.8" r="10"/><circle cx="2156.9" cy="1145.2" r="10"/><circle cx="2170.7" cy="1145.2" r="10"/><circle cx="2187.3" cy="1146.2" r="10"/><circle cx="2150" cy="1147.6" r="10"/>
<circle cx="2154.2" cy="1150" r="10"/><circle cx="2176.2" cy="1150" r="10"/><circle cx="2126.2" cy="1152.8" r="10"/><circle cx="2152.4" cy="1155" r="10"/><circle cx="2203.7" cy="1155.4" r="10"/><circle cx="1985.6" cy="1157.2" r="10"/>
<circle cx="2248.4" cy="1158.9" r="10"/><circle cx="2161.1" cy="1159.3" r="10"/><circle cx="2189.5" cy="1159.3" r="10"/><circle cx="2081.5" cy="1160.4" r="10"/><circle cx="2065.2" cy="1161.5" r="10"/><circle cx="2191.3" cy="1161.9" r="10"/>
<circle cx="2128.4" cy="1162.6" r="10"/><circle cx="2103.4" cy="1165.9" r="10"/><circle cx="2150" cy="1166.6" r="10"/><circle cx="2314.9" cy="1167.6" r="10"/><circle cx="2154.2" cy="1169" r="10"/><circle cx="2165.2" cy="1169" r="10"/>
<circle cx="2187.2" cy="1169" r="10"/><circle cx="1874.8" cy="1171.3" r="10"/><circle cx="2169.3" cy="1171.4" r="10"/><circle cx="2054.3" cy="1174.6" r="10"/><circle cx="2180.8" cy="1174.6" r="10"/><circle cx="1980.8" cy="1176.8" r="10"/>
<circle cx="2087" cy="1176.8" r="10"/><circle cx="2159" cy="1176.8" r="10"/><circle cx="2154.2" cy="1178.6" r="10"/><circle cx="2071.7" cy="1179" r="10"/><circle cx="2246.6" cy="1179" r="10"/><circle cx="2225.9" cy="1180.5" r="10"/>
<circle cx="2126.2" cy="1181.1" r="10"/><circle cx="2101.9" cy="1183.3" r="10"/><circle cx="2114.3" cy="1185.7" r="10"/><circle cx="1670.9" cy="1185.9" r="10"/><circle cx="2009.6" cy="1186.6" r="10"/><circle cx="2055.2" cy="1188.1" r="10"/>
<circle cx="2066.2" cy="1188.1" r="10"/><circle cx="2088.2" cy="1188.1" r="10"/><circle cx="2099.2" cy="1188.1" r="10"/><circle cx="2110.2" cy="1188.1" r="10"/><circle cx="2165.2" cy="1188.1" r="10"/><circle cx="2033.6" cy="1188.8" r="10"/>
<circle cx="2176.4" cy="1188.8" r="10"/><circle cx="2119.7" cy="1189.9" r="10"/><circle cx="2048.3" cy="1190.5" r="10"/><circle cx="2200" cy="1195.3" r="10"/><circle cx="2139.3" cy="1196.4" r="10"/><circle cx="2060.7" cy="1197.6" r="10"/>
<circle cx="2071.7" cy="1197.6" r="10"/><circle cx="2082.7" cy="1197.6" r="10"/><circle cx="2093.7" cy="1197.6" r="10"/><circle cx="2115.7" cy="1197.6" r="10"/><circle cx="2126.7" cy="1197.6" r="10"/><circle cx="2020.5" cy="1198.6" r="10"/>
<circle cx="2169.9" cy="1198.6" r="10"/><circle cx="1998.7" cy="1200.8" r="10"/><circle cx="2112.9" cy="1202.4" r="10"/><circle cx="2129.4" cy="1202.4" r="10"/><circle cx="2156.9" cy="1202.4" r="10"/><circle cx="1938.7" cy="1202.9" r="10"/>
<circle cx="1949.6" cy="1205.1" r="10"/><circle cx="2252.1" cy="1206.9" r="10"/><circle cx="2060.7" cy="1207.1" r="10"/><circle cx="2077.2" cy="1207.1" r="10"/><circle cx="2088.2" cy="1207.1" r="10"/><circle cx="2099.2" cy="1207.1" r="10"/>
<circle cx="1932.8" cy="1209.5" r="10"/><circle cx="1941" cy="1209.5" r="10"/><circle cx="2171" cy="1210.6" r="10"/><circle cx="2038.7" cy="1211.9" r="10"/><circle cx="2045.5" cy="1214.3" r="10"/><circle cx="2070.3" cy="1214.3" r="10"/>
<circle cx="2144.8" cy="1214.9" r="10"/><circle cx="1950.7" cy="1216.7" r="10"/><circle cx="2038.7" cy="1216.7" r="10"/><circle cx="2049.7" cy="1216.7" r="10"/><circle cx="2060.7" cy="1216.7" r="10"/><circle cx="2093.7" cy="1216.7" r="10"/>
<circle cx="2104.7" cy="1216.7" r="10"/><circle cx="2137.7" cy="1216.7" r="10"/><circle cx="2193.8" cy="1217.1" r="10"/><circle cx="1958.3" cy="1218.2" r="10"/><circle cx="1982.3" cy="1218.2" r="10"/><circle cx="2224.4" cy="1218.2" r="10"/>
<circle cx="2108.8" cy="1219" r="10"/><circle cx="1947.9" cy="1221.4" r="10"/><circle cx="1995.4" cy="1224.7" r="10"/><circle cx="1967.2" cy="1226.2" r="10"/><circle cx="1978.2" cy="1226.2" r="10"/><circle cx="2027.7" cy="1226.2" r="10"/>
<circle cx="2033.2" cy="1226.2" r="10"/><circle cx="2044.2" cy="1226.2" r="10"/><circle cx="2066.2" cy="1226.2" r="10"/><circle cx="2093.7" cy="1226.2" r="10"/><circle cx="2099.2" cy="1226.2" r="10"/><circle cx="2110.2" cy="1226.2" r="10"/>
<circle cx="2115.7" cy="1226.2" r="10"/><circle cx="2132.2" cy="1226.2" r="10"/><circle cx="2137.7" cy="1226.2" r="10"/><circle cx="2089.5" cy="1228.6" r="10"/><circle cx="1931.4" cy="1230.9" r="10"/><circle cx="1989.2" cy="1230.9" r="10"/>
<circle cx="2008.4" cy="1230.9" r="10"/><circle cx="1939.7" cy="1235.7" r="10"/><circle cx="1950.7" cy="1235.7" r="10"/><circle cx="1961.7" cy="1235.7" r="10"/><circle cx="1967.2" cy="1235.7" r="10"/><circle cx="1994.7" cy="1235.7" r="10"/>
<circle cx="2005.7" cy="1235.7" r="10"/><circle cx="2016.7" cy="1235.7" r="10"/><circle cx="2038.7" cy="1235.7" r="10"/><circle cx="2060.7" cy="1235.7" r="10"/><circle cx="2071.7" cy="1235.7" r="10"/><circle cx="2082.7" cy="1235.7" r="10"/>
<circle cx="2093.7" cy="1235.7" r="10"/><circle cx="2115.7" cy="1235.7" r="10"/><circle cx="2126.7" cy="1235.7" r="10"/><circle cx="2137.7" cy="1235.7" r="10"/><circle cx="2211.3" cy="1235.7" r="10"/><circle cx="2159" cy="1237.8" r="10"/>
<circle cx="1946.5" cy="1238.1" r="10"/><circle cx="2023.5" cy="1238.1" r="10"/><circle cx="2045.5" cy="1238.1" r="10"/><circle cx="1889.4" cy="1239.4" r="10"/><circle cx="1931.4" cy="1240.5" r="10"/><circle cx="2019.4" cy="1240.5" r="10"/>
<circle cx="2096.4" cy="1240.5" r="10"/><circle cx="1871.9" cy="1241.5" r="10"/><circle cx="2150.2" cy="1244.4" r="10"/><circle cx="1934.2" cy="1245.2" r="10"/><circle cx="1942.4" cy="1245.2" r="10"/><circle cx="1967.2" cy="1245.2" r="10"/>
<circle cx="1994.7" cy="1245.2" r="10"/><circle cx="2000.2" cy="1245.2" r="10"/><circle cx="2011.2" cy="1245.2" r="10"/><circle cx="2055.2" cy="1245.2" r="10"/><circle cx="2110.2" cy="1245.2" r="10"/><circle cx="2121.2" cy="1245.2" r="10"/>
<circle cx="2143.2" cy="1245.2" r="10"/><circle cx="2216.1" cy="1245.9" r="10"/><circle cx="2283.7" cy="1245.9" r="10"/><circle cx="2073" cy="1247.6" r="10"/><circle cx="1851.9" cy="1248.1" r="10"/><circle cx="1901.4" cy="1248.7" r="10"/>
<circle cx="1931.4" cy="1250" r="10"/><circle cx="1972.7" cy="1250" r="10"/><circle cx="2020.8" cy="1252.4" r="10"/><circle cx="1939.7" cy="1254.8" r="10"/><circle cx="1972.7" cy="1254.8" r="10"/><circle cx="1983.7" cy="1254.8" r="10"/>
<circle cx="1994.7" cy="1254.8" r="10"/><circle cx="2016.7" cy="1254.8" r="10"/><circle cx="2044.2" cy="1254.8" r="10"/><circle cx="2049.7" cy="1254.8" r="10"/><circle cx="2060.7" cy="1254.8" r="10"/><circle cx="2071.7" cy="1254.8" r="10"/>
<circle cx="2082.7" cy="1254.8" r="10"/><circle cx="2093.7" cy="1254.8" r="10"/><circle cx="2104.7" cy="1254.8" r="10"/><circle cx="2110.2" cy="1254.8" r="10"/><circle cx="2126.7" cy="1254.8" r="10"/><circle cx="2137.7" cy="1254.8" r="10"/>
<circle cx="1767.9" cy="1256.4" r="10"/><circle cx="2147.3" cy="1257.1" r="10"/><circle cx="1931.4" cy="1259.5" r="10"/><circle cx="1947.9" cy="1259.5" r="10"/><circle cx="1958.9" cy="1259.5" r="10"/><circle cx="2030.4" cy="1259.5" r="10"/>
<circle cx="2112.9" cy="1259.5" r="10"/><circle cx="2191.2" cy="1260.3" r="10"/><circle cx="2108.8" cy="1261.9" r="10"/><circle cx="2245.1" cy="1264" r="10"/><circle cx="1934.2" cy="1264.3" r="10"/><circle cx="1956.2" cy="1264.3" r="10"/>
<circle cx="1967.2" cy="1264.3" r="10"/><circle cx="1978.2" cy="1264.3" r="10"/><circle cx="2000.2" cy="1264.3" r="10"/><circle cx="2011.2" cy="1264.3" r="10"/><circle cx="2022.2" cy="1264.3" r="10"/><circle cx="2033.2" cy="1264.3" r="10"/>
<circle cx="2044.2" cy="1264.3" r="10"/><circle cx="2066.2" cy="1264.3" r="10"/><circle cx="2077.2" cy="1264.3" r="10"/><circle cx="2082.7" cy="1264.3" r="10"/><circle cx="2132.2" cy="1264.3" r="10"/><circle cx="2143.2" cy="1264.3" r="10"/>
<circle cx="1869.8" cy="1264.7" r="10"/><circle cx="2160" cy="1265.1" r="10"/><circle cx="1563.4" cy="1265.7" r="10"/><circle cx="2074.4" cy="1269.1" r="10"/><circle cx="2085.4" cy="1269.1" r="10"/><circle cx="1985" cy="1271.4" r="10"/>
<circle cx="1916.6" cy="1272.7" r="10"/><circle cx="1950.7" cy="1273.8" r="10"/><circle cx="1972.7" cy="1273.8" r="10"/><circle cx="1994.7" cy="1273.8" r="10"/><circle cx="2016.7" cy="1273.8" r="10"/><circle cx="2033.2" cy="1273.8" r="10"/>
<circle cx="2049.7" cy="1273.8" r="10"/><circle cx="2137.7" cy="1273.8" r="10"/><circle cx="2001.5" cy="1276.2" r="10"/><circle cx="2206.9" cy="1276.6" r="10"/><circle cx="1877.4" cy="1278.2" r="10"/><circle cx="2107.4" cy="1278.6" r="10"/>
<circle cx="2137.7" cy="1278.6" r="10"/><circle cx="2180.8" cy="1280.4" r="10"/><circle cx="2092.3" cy="1281" r="10"/><circle cx="1934.2" cy="1283.3" r="10"/><circle cx="1950.7" cy="1283.3" r="10"/><circle cx="1956.2" cy="1283.3" r="10"/>
<circle cx="1967.2" cy="1283.3" r="10"/><circle cx="1978.2" cy="1283.3" r="10"/><circle cx="1989.2" cy="1283.3" r="10"/><circle cx="2011.2" cy="1283.3" r="10"/><circle cx="2033.2" cy="1283.3" r="10"/><circle cx="2044.2" cy="1283.3" r="10"/>
<circle cx="2066.2" cy="1283.3" r="10"/><circle cx="2099.2" cy="1283.3" r="10"/><circle cx="2110.2" cy="1283.3" r="10"/><circle cx="2126.7" cy="1283.3" r="10"/><circle cx="2132.2" cy="1283.3" r="10"/><circle cx="1927.5" cy="1283.6" r="10"/>
<circle cx="1829" cy="1286.2" r="10"/><circle cx="1873" cy="1286.9" r="10"/><circle cx="1936.9" cy="1288.1" r="10"/><circle cx="2016.7" cy="1288.1" r="10"/><circle cx="2090.9" cy="1288.1" r="10"/><circle cx="1994.7" cy="1292.9" r="10"/>
<circle cx="2005.7" cy="1292.9" r="10"/><circle cx="2027.7" cy="1292.9" r="10"/><circle cx="2038.7" cy="1292.9" r="10"/><circle cx="2049.7" cy="1292.9" r="10"/><circle cx="2071.7" cy="1292.9" r="10"/><circle cx="2115.7" cy="1292.9" r="10"/>
<circle cx="2143.2" cy="1292.9" r="10"/><circle cx="1864.3" cy="1295.5" r="10"/><circle cx="1980.9" cy="1297.6" r="10"/><circle cx="2041.4" cy="1297.6" r="10"/><circle cx="2085.4" cy="1297.6" r="10"/><circle cx="1796.7" cy="1298.3" r="10"/>
<circle cx="1855.6" cy="1299.8" r="10"/><circle cx="1912.2" cy="1302.4" r="10"/><circle cx="1923.2" cy="1302.4" r="10"/><circle cx="1936.9" cy="1302.4" r="10"/><circle cx="1945.2" cy="1302.4" r="10"/><circle cx="1956.2" cy="1302.4" r="10"/>
<circle cx="1961.7" cy="1302.4" r="10"/><circle cx="1967.2" cy="1302.4" r="10"/><circle cx="1978.2" cy="1302.4" r="10"/><circle cx="1989.2" cy="1302.4" r="10"/><circle cx="2011.2" cy="1302.4" r="10"/><circle cx="2022.2" cy="1302.4" r="10"/>
<circle cx="2055.2" cy="1302.4" r="10"/><circle cx="2066.2" cy="1302.4" r="10"/><circle cx="2077.2" cy="1302.4" r="10"/><circle cx="2110.2" cy="1302.4" r="10"/><circle cx="2132.2" cy="1302.4" r="10"/><circle cx="2143.2" cy="1302.4" r="10"/>
<circle cx="1908" cy="1304.8" r="10"/><circle cx="2048.3" cy="1304.8" r="10"/><circle cx="1921" cy="1305.3" r="10"/><circle cx="1991.9" cy="1307.2" r="10"/><circle cx="2024.9" cy="1307.2" r="10"/><circle cx="2052.4" cy="1307.2" r="10"/>
<circle cx="2074.4" cy="1307.2" r="10"/><circle cx="2151.4" cy="1307.2" r="10"/><circle cx="1882.2" cy="1310.7" r="10"/><circle cx="1907.9" cy="1310.7" r="10"/><circle cx="1928.7" cy="1311.9" r="10"/><circle cx="1972.7" cy="1311.9" r="10"/>
<circle cx="2005.7" cy="1311.9" r="10"/><circle cx="2016.7" cy="1311.9" r="10"/><circle cx="2093.7" cy="1311.9" r="10"/><circle cx="2104.7" cy="1311.9" r="10"/><circle cx="2115.7" cy="1311.9" r="10"/><circle cx="2126.7" cy="1311.9" r="10"/>
<circle cx="2137.7" cy="1311.9" r="10"/><circle cx="2148.7" cy="1311.9" r="10"/><circle cx="1708.4" cy="1313.3" r="10"/><circle cx="1913.5" cy="1314.3" r="10"/><circle cx="1730.2" cy="1314.4" r="10"/><circle cx="1986.4" cy="1316.7" r="10"/>
<circle cx="2027.7" cy="1316.7" r="10"/><circle cx="2196.5" cy="1317.3" r="10"/><circle cx="2265.4" cy="1317.9" r="10"/><circle cx="1831.6" cy="1318.3" r="10"/><circle cx="2128" cy="1319.1" r="10"/><circle cx="1854.1" cy="1320.5" r="10"/>
<circle cx="1923.2" cy="1321.4" r="10"/><circle cx="1945.2" cy="1321.4" r="10"/><circle cx="1961.7" cy="1321.4" r="10"/><circle cx="1967.2" cy="1321.4" r="10"/><circle cx="1978.2" cy="1321.4" r="10"/><circle cx="2016.7" cy="1321.4" r="10"/>
<circle cx="2022.2" cy="1321.4" r="10"/><circle cx="2027.7" cy="1321.4" r="10"/><circle cx="2055.2" cy="1321.4" r="10"/><circle cx="2066.2" cy="1321.4" r="10"/><circle cx="2077.2" cy="1321.4" r="10"/><circle cx="2088.2" cy="1321.4" r="10"/>
<circle cx="2099.2" cy="1321.4" r="10"/><circle cx="2104.7" cy="1321.4" r="10"/><circle cx="2132.2" cy="1321.4" r="10"/><circle cx="1883.9" cy="1322.7" r="10"/><circle cx="1938.4" cy="1323.8" r="10"/><circle cx="2042.8" cy="1323.8" r="10"/>
<circle cx="2150.2" cy="1323.8" r="10"/><circle cx="1617.9" cy="1324.9" r="10"/><circle cx="2016.7" cy="1326.2" r="10"/><circle cx="2024.9" cy="1326.2" r="10"/><circle cx="2035.9" cy="1326.2" r="10"/><circle cx="2046.9" cy="1326.2" r="10"/>
<circle cx="2096.4" cy="1326.2" r="10"/><circle cx="1890.5" cy="1327.1" r="10"/><circle cx="2171" cy="1327.1" r="10"/><circle cx="1830.5" cy="1328.2" r="10"/><circle cx="2031.8" cy="1328.6" r="10"/><circle cx="2092.3" cy="1328.6" r="10"/>
<circle cx="2106" cy="1328.6" r="10"/><circle cx="1916.6" cy="1330.3" r="10"/><circle cx="1939.7" cy="1331" r="10"/><circle cx="1950.7" cy="1331" r="10"/><circle cx="1983.7" cy="1331" r="10"/><circle cx="2049.7" cy="1331" r="10"/>
<circle cx="2060.7" cy="1331" r="10"/><circle cx="2082.7" cy="1331" r="10"/><circle cx="2089.5" cy="1333.4" r="10"/><circle cx="2128" cy="1333.4" r="10"/><circle cx="2139" cy="1333.4" r="10"/><circle cx="1964.9" cy="1333.6" r="10"/>
<circle cx="2135" cy="1333.6" r="10"/><circle cx="2063.4" cy="1335.7" r="10"/><circle cx="2173.8" cy="1335.8" r="10"/><circle cx="1951.8" cy="1338" r="10"/><circle cx="1987.8" cy="1338.1" r="10"/><circle cx="2125.3" cy="1338.1" r="10"/>
<circle cx="1799.3" cy="1339.7" r="10"/><circle cx="2198.2" cy="1339.7" r="10"/><circle cx="1978.2" cy="1340.5" r="10"/><circle cx="1983.7" cy="1340.5" r="10"/><circle cx="2077.2" cy="1340.5" r="10"/><circle cx="2082.7" cy="1340.5" r="10"/>
<circle cx="2115.7" cy="1340.5" r="10"/><circle cx="2121.2" cy="1340.5" r="10"/><circle cx="2048.8" cy="1343.4" r="10"/><circle cx="1929.7" cy="1344.5" r="10"/><circle cx="1950.7" cy="1345.3" r="10"/><circle cx="1986.4" cy="1345.3" r="10"/>
<circle cx="2085.4" cy="1345.3" r="10"/><circle cx="2144.8" cy="1346.3" r="10"/><circle cx="1956.2" cy="1346.7" r="10"/><circle cx="2081.3" cy="1347.6" r="10"/><circle cx="1916.6" cy="1347.8" r="10"/><circle cx="2041.2" cy="1348.9" r="10"/>
<circle cx="1772.1" cy="1349.3" r="10"/><circle cx="1967.2" cy="1350" r="10"/><circle cx="2090.9" cy="1350" r="10"/><circle cx="2126.2" cy="1351.1" r="10"/><circle cx="1850.1" cy="1353.2" r="10"/><circle cx="1975.8" cy="1354.3" r="10"/>
<circle cx="1985.6" cy="1357.6" r="10"/><circle cx="1912.3" cy="1359.8" r="10"/><circle cx="2045.6" cy="1359.8" r="10"/><circle cx="1883.9" cy="1360.9" r="10"/><circle cx="1936.5" cy="1362" r="10"/><circle cx="2125.2" cy="1362" r="10"/>
<circle cx="1672" cy="1363" r="10"/><circle cx="1980.2" cy="1364.1" r="10"/><circle cx="2008.1" cy="1364.8" r="10"/><circle cx="2273.4" cy="1365.9" r="10"/><circle cx="1947.4" cy="1366.3" r="10"/><circle cx="1954" cy="1368.5" r="10"/>
<circle cx="2070.6" cy="1370" r="10"/><circle cx="2133.9" cy="1371.8" r="10"/><circle cx="1889.4" cy="1374" r="10"/><circle cx="2184" cy="1374" r="10"/><circle cx="2055.4" cy="1376.1" r="10"/><circle cx="2111" cy="1377.2" r="10"/>
<circle cx="1929.7" cy="1378.3" r="10"/><circle cx="2125.2" cy="1378.3" r="10"/><circle cx="1954" cy="1379.4" r="10"/><circle cx="1994.3" cy="1381.1" r="10"/><circle cx="1970.3" cy="1382.7" r="10"/><circle cx="2047.7" cy="1383.8" r="10"/>
<circle cx="1830.1" cy="1384.9" r="10"/><circle cx="1912.3" cy="1384.9" r="10"/><circle cx="2091.4" cy="1385.3" r="10"/><circle cx="1960.5" cy="1385.9" r="10"/><circle cx="1878.5" cy="1387" r="10"/><circle cx="1882.8" cy="1391.4" r="10"/>
<circle cx="2066.9" cy="1391.8" r="10"/><circle cx="1976.2" cy="1397.3" r="10"/><circle cx="2027" cy="1397.3" r="10"/><circle cx="2089.2" cy="1397.9" r="10"/><circle cx="1933" cy="1407.7" r="10"/><circle cx="1947.2" cy="1408.8" r="10"/>
<circle cx="1993.2" cy="1408.8" r="10"/><circle cx="1859.3" cy="1409.3" r="10"/><circle cx="2145.9" cy="1409.5" r="10"/><circle cx="2093.5" cy="1409.9" r="10"/><circle cx="1885" cy="1411.5" r="10"/><circle cx="2076.1" cy="1415.4" r="10"/>
<circle cx="2040.1" cy="1415.8" r="10"/><circle cx="1999.8" cy="1419.7" r="10"/><circle cx="1975.8" cy="1426.7" r="10"/><circle cx="1492.1" cy="1426.9" r="10"/><circle cx="1841" cy="1432.8" r="10"/><circle cx="2154.6" cy="1435" r="10"/>
<circle cx="2158.5" cy="1438.3" r="10"/><circle cx="1924.3" cy="1438.7" r="10"/><circle cx="2052.1" cy="1440.5" r="10"/><circle cx="2084.8" cy="1445.5" r="10"/><circle cx="1748.3" cy="1447.7" r="10"/><circle cx="1854.5" cy="1448.1" r="10"/>
<circle cx="1822.4" cy="1456.8" r="10"/><circle cx="1934.1" cy="1456.8" r="10"/><circle cx="2035.3" cy="1457.2" r="10"/><circle cx="2050.6" cy="1463.4" r="10"/><circle cx="1981.9" cy="1463.8" r="10"/><circle cx="1931.2" cy="1474.9" r="10"/>
<circle cx="2174.2" cy="1490.6" r="10"/><circle cx="1983.4" cy="1491.7" r="10"/><circle cx="2080.5" cy="1496.7" r="10"/><circle cx="1912.7" cy="1497.2" r="10"/><circle cx="2070.6" cy="1517.2" r="10"/><circle cx="1969.2" cy="1538.1" r="10"/>
<circle cx="1961.6" cy="1547.3" r="10"/><circle cx="1890" cy="1564.1" r="10"/><circle cx="2110.3" cy="1575.2" r="10"/><circle cx="2140.9" cy="1598.5" r="10"/><circle cx="1959.4" cy="1628.6" r="10"/><circle cx="2081.5" cy="1628.6" r="10"/>
<circle cx="2145.9" cy="1628.6" r="10"/><circle cx="1940.6" cy="1632.6" r="10"/>
</g>
<line x1="1492.3" y1="1472.1" x2="2422.8" y2="1134.3" stroke="#a3a3a3" stroke-width="7.3"/>
<path d="M1445.7 955.2V1628.7H2471.2" fill="none" stroke="#000" stroke-width="4.3" stroke-linejoin="round"/>
<path d="M1531.4 1628.7v12.2M1729.6 1628.7v12.2M1927.8 1628.7v12.2M2126 1628.7v12.2M2324.2 1628.7v12.2M1445.7 1097.4h-12.2M1445.7 1280.6h-12.2M1445.7 1463.8h-12.2" fill="none" stroke="#000" stroke-width="3.8"/>
<g font-size="38.6" fill="#4d4d4d">
<text transform="translate(1530.8 1680.7) scale(1 1.04)" text-anchor="middle">32</text>
<text transform="translate(1729 1680.7) scale(1 1.04)" text-anchor="middle">64</text>
<text transform="translate(1927.2 1680.7) scale(1 1.04)" text-anchor="middle">128</text>
<text transform="translate(2125.4 1680.7) scale(1 1.04)" text-anchor="middle">256</text>
<text transform="translate(2323.6 1680.7) scale(1 1.04)" text-anchor="middle">512</text>
<text transform="translate(1423.7 1114) scale(1 1.04)" text-anchor="end">64</text>
<text transform="translate(1423.7 1297.2) scale(1 1.04)" text-anchor="end">8</text>
<text transform="translate(1423.7 1480.4) scale(1 1.04)" text-anchor="end">1</text>
</g>
<text transform="translate(1956.5 1744.7) scale(1 1.02)" font-size="47.3" text-anchor="middle" fill="#000">CEC eff. (mmolc kg<tspan font-size="33.1" dy="-23.5">−1</tspan><tspan dy="23.5">)</tspan></text>
<text transform="translate(1349 1292) rotate(-90) scale(1 1.02)" font-size="47.3" text-anchor="middle" fill="#000">SOC (g kg<tspan font-size="33.1" dy="-23.5">−1</tspan><tspan dy="23.5">)</tspan></text>
<text x="1226.6" y="915" font-size="47.3" font-weight="bold" fill="#000">D</text>
</g>
</svg>
</body>
</html>
